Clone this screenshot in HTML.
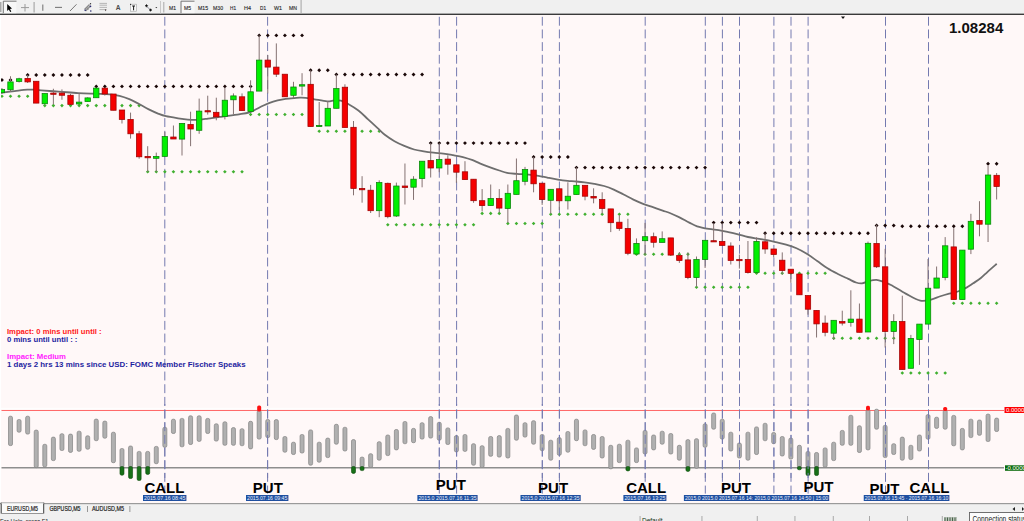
<!DOCTYPE html><html><head><meta charset="utf-8"><style>html,body{margin:0;padding:0;width:1024px;height:521px;overflow:hidden;background:#FFF9F9;position:relative;font-family:"Liberation Sans",sans-serif}</style></head><body><svg width="1024" height="521" viewBox="0 0 1024 521" style="position:absolute;left:0;top:0">
<rect x="0" y="15" width="1024" height="489" fill="#FFF8F8"/>
<rect x="0" y="407.8" width="1024" height="1" fill="#FFFFFF"/>
<rect x="0" y="15" width="1" height="488" fill="#FFFFFF"/>
<rect x="0" y="0" width="1024" height="14" fill="#F0F0F0"/>
<rect x="0" y="13.6" width="1024" height="1.4" fill="#3A3A3A"/>
<line x1="1.5" y1="410.5" x2="1004" y2="410.5" stroke="#FF6A6A" stroke-width="1"/>
<line x1="1.5" y1="467.8" x2="1004" y2="467.8" stroke="#8E8E8E" stroke-width="1.4"/>
<clipPath id="chclip"><rect x="1" y="15" width="1023" height="392.8"/></clipPath><g clip-path="url(#chclip)">
<line x1="164.8" y1="16.8" x2="164.8" y2="493.6" stroke="#747AB0" stroke-width="1" stroke-dasharray="8.9 3.77"/>
<line x1="267.6" y1="16.8" x2="267.6" y2="493.6" stroke="#747AB0" stroke-width="1" stroke-dasharray="8.9 3.77"/>
<line x1="439.3" y1="16.8" x2="439.3" y2="493.6" stroke="#747AB0" stroke-width="1" stroke-dasharray="8.9 3.77"/>
<line x1="456.6" y1="16.8" x2="456.6" y2="493.6" stroke="#747AB0" stroke-width="1" stroke-dasharray="8.9 3.77"/>
<line x1="542.3" y1="16.8" x2="542.3" y2="493.6" stroke="#747AB0" stroke-width="1" stroke-dasharray="8.9 3.77"/>
<line x1="559.4" y1="16.8" x2="559.4" y2="493.6" stroke="#747AB0" stroke-width="1" stroke-dasharray="8.9 3.77"/>
<line x1="645.2" y1="16.8" x2="645.2" y2="493.6" stroke="#747AB0" stroke-width="1" stroke-dasharray="8.9 3.77"/>
<line x1="705.3" y1="16.8" x2="705.3" y2="493.6" stroke="#747AB0" stroke-width="1" stroke-dasharray="8.9 3.77"/>
<line x1="722.4" y1="16.8" x2="722.4" y2="493.6" stroke="#747AB0" stroke-width="1" stroke-dasharray="8.9 3.77"/>
<line x1="739.5" y1="16.8" x2="739.5" y2="493.6" stroke="#747AB0" stroke-width="1" stroke-dasharray="8.9 3.77"/>
<line x1="773.9" y1="16.8" x2="773.9" y2="493.6" stroke="#747AB0" stroke-width="1" stroke-dasharray="8.9 3.77"/>
<line x1="791" y1="16.8" x2="791" y2="493.6" stroke="#747AB0" stroke-width="1" stroke-dasharray="8.9 3.77"/>
<line x1="808.1" y1="16.8" x2="808.1" y2="493.6" stroke="#747AB0" stroke-width="1" stroke-dasharray="8.9 3.77"/>
<line x1="885.5" y1="16.8" x2="885.5" y2="493.6" stroke="#747AB0" stroke-width="1" stroke-dasharray="8.9 3.77"/>
<line x1="928.5" y1="16.8" x2="928.5" y2="493.6" stroke="#747AB0" stroke-width="1" stroke-dasharray="8.9 3.77"/>
<path d="M-0.02 80.00L1.93 78.05L3.88 80.00L1.93 81.95Z" fill="#1A0808"/>
<path d="M8.55 80.00L10.50 78.05L12.45 80.00L10.50 81.95Z" fill="#1A0808"/>
<path d="M25.70 75.00L27.65 73.05L29.60 75.00L27.65 76.95Z" fill="#1A0808"/>
<path d="M34.28 75.00L36.23 73.05L38.18 75.00L36.23 76.95Z" fill="#1A0808"/>
<path d="M42.85 75.00L44.80 73.05L46.76 75.00L44.80 76.95Z" fill="#1A0808"/>
<path d="M51.43 75.00L53.38 73.05L55.33 75.00L53.38 76.95Z" fill="#1A0808"/>
<path d="M60.00 75.00L61.95 73.05L63.90 75.00L61.95 76.95Z" fill="#1A0808"/>
<path d="M68.58 75.00L70.53 73.05L72.48 75.00L70.53 76.95Z" fill="#1A0808"/>
<path d="M77.16 75.00L79.11 73.05L81.06 75.00L79.11 76.95Z" fill="#1A0808"/>
<path d="M85.73 75.00L87.68 73.05L89.63 75.00L87.68 76.95Z" fill="#1A0808"/>
<path d="M94.30 86.40L96.25 84.45L98.20 86.40L96.25 88.35Z" fill="#1A0808"/>
<path d="M102.88 86.40L104.83 84.45L106.78 86.40L104.83 88.35Z" fill="#1A0808"/>
<path d="M111.45 86.40L113.41 84.45L115.36 86.40L113.41 88.35Z" fill="#1A0808"/>
<path d="M120.03 86.40L121.98 84.45L123.93 86.40L121.98 88.35Z" fill="#1A0808"/>
<path d="M128.61 86.40L130.56 84.45L132.50 86.40L130.56 88.35Z" fill="#1A0808"/>
<path d="M137.18 86.40L139.13 84.45L141.08 86.40L139.13 88.35Z" fill="#1A0808"/>
<path d="M145.75 86.40L147.70 84.45L149.65 86.40L147.70 88.35Z" fill="#1A0808"/>
<path d="M154.33 86.40L156.28 84.45L158.23 86.40L156.28 88.35Z" fill="#1A0808"/>
<path d="M162.91 86.40L164.85 84.45L166.80 86.40L164.85 88.35Z" fill="#1A0808"/>
<path d="M171.48 86.40L173.43 84.45L175.38 86.40L173.43 88.35Z" fill="#1A0808"/>
<path d="M180.06 86.40L182.00 84.45L183.95 86.40L182.00 88.35Z" fill="#1A0808"/>
<path d="M188.63 86.40L190.58 84.45L192.53 86.40L190.58 88.35Z" fill="#1A0808"/>
<path d="M197.21 86.40L199.16 84.45L201.10 86.40L199.16 88.35Z" fill="#1A0808"/>
<path d="M205.78 86.40L207.73 84.45L209.68 86.40L207.73 88.35Z" fill="#1A0808"/>
<path d="M214.35 86.40L216.30 84.45L218.25 86.40L216.30 88.35Z" fill="#1A0808"/>
<path d="M222.93 86.40L224.88 84.45L226.83 86.40L224.88 88.35Z" fill="#1A0808"/>
<path d="M231.50 86.40L233.45 84.45L235.40 86.40L233.45 88.35Z" fill="#1A0808"/>
<path d="M240.08 86.40L242.03 84.45L243.98 86.40L242.03 88.35Z" fill="#1A0808"/>
<path d="M248.66 86.40L250.60 84.45L252.55 86.40L250.60 88.35Z" fill="#1A0808"/>
<path d="M257.23 35.40L259.18 33.45L261.13 35.40L259.18 37.35Z" fill="#1A0808"/>
<path d="M265.81 35.40L267.75 33.45L269.70 35.40L267.75 37.35Z" fill="#1A0808"/>
<path d="M274.38 35.40L276.33 33.45L278.28 35.40L276.33 37.35Z" fill="#1A0808"/>
<path d="M282.95 35.40L284.90 33.45L286.85 35.40L284.90 37.35Z" fill="#1A0808"/>
<path d="M291.53 35.40L293.48 33.45L295.43 35.40L293.48 37.35Z" fill="#1A0808"/>
<path d="M300.11 35.40L302.06 33.45L304.00 35.40L302.06 37.35Z" fill="#1A0808"/>
<path d="M308.68 70.30L310.63 68.35L312.58 70.30L310.63 72.25Z" fill="#1A0808"/>
<path d="M317.25 70.30L319.20 68.35L321.15 70.30L319.20 72.25Z" fill="#1A0808"/>
<path d="M325.83 70.30L327.78 68.35L329.73 70.30L327.78 72.25Z" fill="#1A0808"/>
<path d="M334.40 74.50L336.35 72.55L338.30 74.50L336.35 76.45Z" fill="#1A0808"/>
<path d="M342.98 74.50L344.93 72.55L346.88 74.50L344.93 76.45Z" fill="#1A0808"/>
<path d="M351.56 74.50L353.50 72.55L355.45 74.50L353.50 76.45Z" fill="#1A0808"/>
<path d="M360.13 74.50L362.08 72.55L364.03 74.50L362.08 76.45Z" fill="#1A0808"/>
<path d="M368.70 74.50L370.65 72.55L372.60 74.50L370.65 76.45Z" fill="#1A0808"/>
<path d="M377.28 74.50L379.23 72.55L381.18 74.50L379.23 76.45Z" fill="#1A0808"/>
<path d="M385.85 74.50L387.80 72.55L389.75 74.50L387.80 76.45Z" fill="#1A0808"/>
<path d="M394.43 74.50L396.38 72.55L398.33 74.50L396.38 76.45Z" fill="#1A0808"/>
<path d="M403.00 74.50L404.95 72.55L406.90 74.50L404.95 76.45Z" fill="#1A0808"/>
<path d="M411.58 74.50L413.53 72.55L415.48 74.50L413.53 76.45Z" fill="#1A0808"/>
<path d="M420.15 74.50L422.10 72.55L424.05 74.50L422.10 76.45Z" fill="#1A0808"/>
<path d="M428.73 143.10L430.68 141.15L432.63 143.10L430.68 145.05Z" fill="#1A0808"/>
<path d="M437.31 143.10L439.25 141.15L441.20 143.10L439.25 145.05Z" fill="#1A0808"/>
<path d="M445.88 143.10L447.83 141.15L449.78 143.10L447.83 145.05Z" fill="#1A0808"/>
<path d="M454.45 143.10L456.40 141.15L458.35 143.10L456.40 145.05Z" fill="#1A0808"/>
<path d="M463.03 143.10L464.98 141.15L466.93 143.10L464.98 145.05Z" fill="#1A0808"/>
<path d="M471.60 143.10L473.55 141.15L475.50 143.10L473.55 145.05Z" fill="#1A0808"/>
<path d="M480.18 143.10L482.13 141.15L484.08 143.10L482.13 145.05Z" fill="#1A0808"/>
<path d="M488.75 143.10L490.70 141.15L492.65 143.10L490.70 145.05Z" fill="#1A0808"/>
<path d="M497.33 143.10L499.28 141.15L501.23 143.10L499.28 145.05Z" fill="#1A0808"/>
<path d="M505.90 143.10L507.85 141.15L509.80 143.10L507.85 145.05Z" fill="#1A0808"/>
<path d="M514.48 143.10L516.43 141.15L518.38 143.10L516.43 145.05Z" fill="#1A0808"/>
<path d="M523.05 143.10L525.00 141.15L526.95 143.10L525.00 145.05Z" fill="#1A0808"/>
<path d="M531.63 157.00L533.58 155.05L535.53 157.00L533.58 158.95Z" fill="#1A0808"/>
<path d="M540.20 157.00L542.15 155.05L544.10 157.00L542.15 158.95Z" fill="#1A0808"/>
<path d="M548.78 157.00L550.73 155.05L552.68 157.00L550.73 158.95Z" fill="#1A0808"/>
<path d="M557.35 157.00L559.30 155.05L561.25 157.00L559.30 158.95Z" fill="#1A0808"/>
<path d="M565.93 157.00L567.88 155.05L569.83 157.00L567.88 158.95Z" fill="#1A0808"/>
<path d="M574.50 167.60L576.45 165.65L578.40 167.60L576.45 169.55Z" fill="#1A0808"/>
<path d="M583.08 167.60L585.03 165.65L586.98 167.60L585.03 169.55Z" fill="#1A0808"/>
<path d="M591.65 167.60L593.60 165.65L595.55 167.60L593.60 169.55Z" fill="#1A0808"/>
<path d="M600.23 167.60L602.18 165.65L604.13 167.60L602.18 169.55Z" fill="#1A0808"/>
<path d="M608.80 167.60L610.75 165.65L612.70 167.60L610.75 169.55Z" fill="#1A0808"/>
<path d="M617.38 167.60L619.33 165.65L621.28 167.60L619.33 169.55Z" fill="#1A0808"/>
<path d="M625.95 167.60L627.90 165.65L629.85 167.60L627.90 169.55Z" fill="#1A0808"/>
<path d="M634.53 167.60L636.48 165.65L638.43 167.60L636.48 169.55Z" fill="#1A0808"/>
<path d="M643.10 167.60L645.05 165.65L647.00 167.60L645.05 169.55Z" fill="#1A0808"/>
<path d="M651.68 167.60L653.63 165.65L655.58 167.60L653.63 169.55Z" fill="#1A0808"/>
<path d="M660.25 167.60L662.20 165.65L664.15 167.60L662.20 169.55Z" fill="#1A0808"/>
<path d="M668.83 167.60L670.78 165.65L672.73 167.60L670.78 169.55Z" fill="#1A0808"/>
<path d="M677.40 167.60L679.35 165.65L681.30 167.60L679.35 169.55Z" fill="#1A0808"/>
<path d="M685.98 167.60L687.93 165.65L689.88 167.60L687.93 169.55Z" fill="#1A0808"/>
<path d="M694.55 167.60L696.50 165.65L698.45 167.60L696.50 169.55Z" fill="#1A0808"/>
<path d="M703.13 167.60L705.08 165.65L707.03 167.60L705.08 169.55Z" fill="#1A0808"/>
<path d="M711.70 222.60L713.65 220.65L715.60 222.60L713.65 224.55Z" fill="#1A0808"/>
<path d="M720.28 222.60L722.23 220.65L724.18 222.60L722.23 224.55Z" fill="#1A0808"/>
<path d="M728.85 222.60L730.80 220.65L732.75 222.60L730.80 224.55Z" fill="#1A0808"/>
<path d="M737.43 222.60L739.38 220.65L741.33 222.60L739.38 224.55Z" fill="#1A0808"/>
<path d="M746.00 222.60L747.95 220.65L749.90 222.60L747.95 224.55Z" fill="#1A0808"/>
<path d="M754.58 222.60L756.53 220.65L758.48 222.60L756.53 224.55Z" fill="#1A0808"/>
<path d="M763.15 233.30L765.10 231.35L767.05 233.30L765.10 235.25Z" fill="#1A0808"/>
<path d="M771.73 233.30L773.68 231.35L775.63 233.30L773.68 235.25Z" fill="#1A0808"/>
<path d="M780.30 233.30L782.25 231.35L784.20 233.30L782.25 235.25Z" fill="#1A0808"/>
<path d="M788.88 233.30L790.83 231.35L792.78 233.30L790.83 235.25Z" fill="#1A0808"/>
<path d="M797.45 233.30L799.40 231.35L801.35 233.30L799.40 235.25Z" fill="#1A0808"/>
<path d="M806.03 233.30L807.98 231.35L809.93 233.30L807.98 235.25Z" fill="#1A0808"/>
<path d="M814.60 233.30L816.55 231.35L818.50 233.30L816.55 235.25Z" fill="#1A0808"/>
<path d="M823.18 233.30L825.13 231.35L827.08 233.30L825.13 235.25Z" fill="#1A0808"/>
<path d="M831.75 233.30L833.70 231.35L835.65 233.30L833.70 235.25Z" fill="#1A0808"/>
<path d="M840.33 233.30L842.28 231.35L844.23 233.30L842.28 235.25Z" fill="#1A0808"/>
<path d="M848.90 233.30L850.85 231.35L852.80 233.30L850.85 235.25Z" fill="#1A0808"/>
<path d="M857.48 233.30L859.43 231.35L861.38 233.30L859.43 235.25Z" fill="#1A0808"/>
<path d="M866.05 233.30L868.00 231.35L869.95 233.30L868.00 235.25Z" fill="#1A0808"/>
<path d="M874.63 225.50L876.58 223.55L878.53 225.50L876.58 227.45Z" fill="#1A0808"/>
<path d="M883.20 225.50L885.15 223.55L887.10 225.50L885.15 227.45Z" fill="#1A0808"/>
<path d="M891.78 225.50L893.73 223.55L895.68 225.50L893.73 227.45Z" fill="#1A0808"/>
<path d="M900.35 226.20L902.30 224.25L904.25 226.20L902.30 228.15Z" fill="#1A0808"/>
<path d="M908.93 226.20L910.88 224.25L912.83 226.20L910.88 228.15Z" fill="#1A0808"/>
<path d="M917.50 226.20L919.45 224.25L921.40 226.20L919.45 228.15Z" fill="#1A0808"/>
<path d="M926.08 226.20L928.03 224.25L929.98 226.20L928.03 228.15Z" fill="#1A0808"/>
<path d="M934.65 226.20L936.60 224.25L938.55 226.20L936.60 228.15Z" fill="#1A0808"/>
<path d="M943.23 226.20L945.18 224.25L947.13 226.20L945.18 228.15Z" fill="#1A0808"/>
<path d="M951.80 226.20L953.75 224.25L955.70 226.20L953.75 228.15Z" fill="#1A0808"/>
<path d="M960.38 226.20L962.33 224.25L964.28 226.20L962.33 228.15Z" fill="#1A0808"/>
<path d="M986.10 163.80L988.05 161.85L990.00 163.80L988.05 165.75Z" fill="#1A0808"/>
<path d="M994.68 163.80L996.63 161.85L998.58 163.80L996.63 165.75Z" fill="#1A0808"/>
<path d="M0.13 96.25L1.93 94.45L3.73 96.25L1.93 98.05Z" fill="#40B030"/>
<path d="M8.70 96.25L10.50 94.45L12.30 96.25L10.50 98.05Z" fill="#40B030"/>
<path d="M17.28 96.25L19.08 94.45L20.88 96.25L19.08 98.05Z" fill="#40B030"/>
<path d="M25.85 96.25L27.65 94.45L29.45 96.25L27.65 98.05Z" fill="#40B030"/>
<path d="M43.01 105.60L44.80 103.80L46.60 105.60L44.80 107.40Z" fill="#40B030"/>
<path d="M51.58 105.60L53.38 103.80L55.18 105.60L53.38 107.40Z" fill="#40B030"/>
<path d="M60.15 105.60L61.95 103.80L63.75 105.60L61.95 107.40Z" fill="#40B030"/>
<path d="M68.73 105.60L70.53 103.80L72.33 105.60L70.53 107.40Z" fill="#40B030"/>
<path d="M77.31 105.60L79.11 103.80L80.91 105.60L79.11 107.40Z" fill="#40B030"/>
<path d="M85.88 105.60L87.68 103.80L89.48 105.60L87.68 107.40Z" fill="#40B030"/>
<path d="M94.45 105.60L96.25 103.80L98.05 105.60L96.25 107.40Z" fill="#40B030"/>
<path d="M103.03 105.60L104.83 103.80L106.63 105.60L104.83 107.40Z" fill="#40B030"/>
<path d="M120.18 105.60L121.98 103.80L123.78 105.60L121.98 107.40Z" fill="#40B030"/>
<path d="M128.75 105.60L130.56 103.80L132.36 105.60L130.56 107.40Z" fill="#40B030"/>
<path d="M137.33 105.60L139.13 103.80L140.93 105.60L139.13 107.40Z" fill="#40B030"/>
<path d="M145.90 171.80L147.70 170.00L149.50 171.80L147.70 173.60Z" fill="#40B030"/>
<path d="M154.48 171.80L156.28 170.00L158.08 171.80L156.28 173.60Z" fill="#40B030"/>
<path d="M163.05 171.80L164.85 170.00L166.66 171.80L164.85 173.60Z" fill="#40B030"/>
<path d="M171.63 171.80L173.43 170.00L175.23 171.80L173.43 173.60Z" fill="#40B030"/>
<path d="M180.20 171.80L182.00 170.00L183.81 171.80L182.00 173.60Z" fill="#40B030"/>
<path d="M188.78 171.80L190.58 170.00L192.38 171.80L190.58 173.60Z" fill="#40B030"/>
<path d="M197.35 171.80L199.16 170.00L200.96 171.80L199.16 173.60Z" fill="#40B030"/>
<path d="M205.93 171.80L207.73 170.00L209.53 171.80L207.73 173.60Z" fill="#40B030"/>
<path d="M214.50 171.80L216.30 170.00L218.10 171.80L216.30 173.60Z" fill="#40B030"/>
<path d="M223.08 171.80L224.88 170.00L226.68 171.80L224.88 173.60Z" fill="#40B030"/>
<path d="M231.65 171.80L233.45 170.00L235.25 171.80L233.45 173.60Z" fill="#40B030"/>
<path d="M240.23 171.80L242.03 170.00L243.83 171.80L242.03 173.60Z" fill="#40B030"/>
<path d="M248.80 114.50L250.60 112.70L252.41 114.50L250.60 116.30Z" fill="#40B030"/>
<path d="M257.38 114.50L259.18 112.70L260.98 114.50L259.18 116.30Z" fill="#40B030"/>
<path d="M265.95 114.50L267.75 112.70L269.56 114.50L267.75 116.30Z" fill="#40B030"/>
<path d="M274.53 114.50L276.33 112.70L278.13 114.50L276.33 116.30Z" fill="#40B030"/>
<path d="M283.10 114.50L284.90 112.70L286.70 114.50L284.90 116.30Z" fill="#40B030"/>
<path d="M291.68 114.50L293.48 112.70L295.28 114.50L293.48 116.30Z" fill="#40B030"/>
<path d="M300.25 114.50L302.06 112.70L303.86 114.50L302.06 116.30Z" fill="#40B030"/>
<path d="M317.40 131.20L319.20 129.40L321.00 131.20L319.20 133.00Z" fill="#40B030"/>
<path d="M325.98 131.20L327.78 129.40L329.58 131.20L327.78 133.00Z" fill="#40B030"/>
<path d="M334.55 131.20L336.35 129.40L338.15 131.20L336.35 133.00Z" fill="#40B030"/>
<path d="M343.13 131.20L344.93 129.40L346.73 131.20L344.93 133.00Z" fill="#40B030"/>
<path d="M351.70 131.20L353.50 129.40L355.31 131.20L353.50 133.00Z" fill="#40B030"/>
<path d="M360.28 131.20L362.08 129.40L363.88 131.20L362.08 133.00Z" fill="#40B030"/>
<path d="M368.85 131.20L370.65 129.40L372.45 131.20L370.65 133.00Z" fill="#40B030"/>
<path d="M377.43 131.20L379.23 129.40L381.03 131.20L379.23 133.00Z" fill="#40B030"/>
<path d="M386.00 224.80L387.80 223.00L389.60 224.80L387.80 226.60Z" fill="#40B030"/>
<path d="M394.58 224.80L396.38 223.00L398.18 224.80L396.38 226.60Z" fill="#40B030"/>
<path d="M403.15 224.80L404.95 223.00L406.75 224.80L404.95 226.60Z" fill="#40B030"/>
<path d="M411.73 224.80L413.53 223.00L415.33 224.80L413.53 226.60Z" fill="#40B030"/>
<path d="M420.30 224.80L422.10 223.00L423.90 224.80L422.10 226.60Z" fill="#40B030"/>
<path d="M428.88 224.80L430.68 223.00L432.48 224.80L430.68 226.60Z" fill="#40B030"/>
<path d="M437.45 224.80L439.25 223.00L441.06 224.80L439.25 226.60Z" fill="#40B030"/>
<path d="M446.03 224.80L447.83 223.00L449.63 224.80L447.83 226.60Z" fill="#40B030"/>
<path d="M454.60 224.80L456.40 223.00L458.20 224.80L456.40 226.60Z" fill="#40B030"/>
<path d="M463.18 224.80L464.98 223.00L466.78 224.80L464.98 226.60Z" fill="#40B030"/>
<path d="M471.75 224.80L473.55 223.00L475.35 224.80L473.55 226.60Z" fill="#40B030"/>
<path d="M480.33 213.40L482.13 211.60L483.93 213.40L482.13 215.20Z" fill="#40B030"/>
<path d="M488.90 213.40L490.70 211.60L492.50 213.40L490.70 215.20Z" fill="#40B030"/>
<path d="M497.48 213.40L499.28 211.60L501.08 213.40L499.28 215.20Z" fill="#40B030"/>
<path d="M506.05 223.50L507.85 221.70L509.65 223.50L507.85 225.30Z" fill="#40B030"/>
<path d="M514.63 223.50L516.43 221.70L518.23 223.50L516.43 225.30Z" fill="#40B030"/>
<path d="M523.20 223.50L525.00 221.70L526.80 223.50L525.00 225.30Z" fill="#40B030"/>
<path d="M531.78 223.50L533.58 221.70L535.38 223.50L533.58 225.30Z" fill="#40B030"/>
<path d="M540.35 223.50L542.15 221.70L543.95 223.50L542.15 225.30Z" fill="#40B030"/>
<path d="M548.93 214.20L550.73 212.40L552.53 214.20L550.73 216.00Z" fill="#40B030"/>
<path d="M557.50 214.20L559.30 212.40L561.10 214.20L559.30 216.00Z" fill="#40B030"/>
<path d="M566.08 214.20L567.88 212.40L569.68 214.20L567.88 216.00Z" fill="#40B030"/>
<path d="M574.65 214.20L576.45 212.40L578.25 214.20L576.45 216.00Z" fill="#40B030"/>
<path d="M583.23 214.20L585.03 212.40L586.83 214.20L585.03 216.00Z" fill="#40B030"/>
<path d="M591.80 214.20L593.60 212.40L595.40 214.20L593.60 216.00Z" fill="#40B030"/>
<path d="M600.38 214.20L602.18 212.40L603.98 214.20L602.18 216.00Z" fill="#40B030"/>
<path d="M608.95 214.20L610.75 212.40L612.55 214.20L610.75 216.00Z" fill="#40B030"/>
<path d="M617.53 214.20L619.33 212.40L621.13 214.20L619.33 216.00Z" fill="#40B030"/>
<path d="M626.10 214.20L627.90 212.40L629.70 214.20L627.90 216.00Z" fill="#40B030"/>
<path d="M634.68 254.30L636.48 252.50L638.28 254.30L636.48 256.10Z" fill="#40B030"/>
<path d="M643.25 254.30L645.05 252.50L646.85 254.30L645.05 256.10Z" fill="#40B030"/>
<path d="M651.83 254.30L653.63 252.50L655.43 254.30L653.63 256.10Z" fill="#40B030"/>
<path d="M660.40 254.30L662.20 252.50L664.00 254.30L662.20 256.10Z" fill="#40B030"/>
<path d="M668.98 254.30L670.78 252.50L672.58 254.30L670.78 256.10Z" fill="#40B030"/>
<path d="M677.55 254.30L679.35 252.50L681.15 254.30L679.35 256.10Z" fill="#40B030"/>
<path d="M686.13 254.30L687.93 252.50L689.73 254.30L687.93 256.10Z" fill="#40B030"/>
<path d="M694.70 287.30L696.50 285.50L698.30 287.30L696.50 289.10Z" fill="#40B030"/>
<path d="M703.28 287.30L705.08 285.50L706.88 287.30L705.08 289.10Z" fill="#40B030"/>
<path d="M711.85 287.30L713.65 285.50L715.45 287.30L713.65 289.10Z" fill="#40B030"/>
<path d="M720.43 287.30L722.23 285.50L724.03 287.30L722.23 289.10Z" fill="#40B030"/>
<path d="M729.00 287.30L730.80 285.50L732.60 287.30L730.80 289.10Z" fill="#40B030"/>
<path d="M737.58 287.30L739.38 285.50L741.18 287.30L739.38 289.10Z" fill="#40B030"/>
<path d="M746.15 287.30L747.95 285.50L749.75 287.30L747.95 289.10Z" fill="#40B030"/>
<path d="M754.73 273.30L756.53 271.50L758.33 273.30L756.53 275.10Z" fill="#40B030"/>
<path d="M763.30 273.30L765.10 271.50L766.90 273.30L765.10 275.10Z" fill="#40B030"/>
<path d="M771.88 273.30L773.68 271.50L775.48 273.30L773.68 275.10Z" fill="#40B030"/>
<path d="M780.45 273.30L782.25 271.50L784.05 273.30L782.25 275.10Z" fill="#40B030"/>
<path d="M789.03 273.30L790.83 271.50L792.63 273.30L790.83 275.10Z" fill="#40B030"/>
<path d="M797.60 273.30L799.40 271.50L801.20 273.30L799.40 275.10Z" fill="#40B030"/>
<path d="M806.18 273.30L807.98 271.50L809.78 273.30L807.98 275.10Z" fill="#40B030"/>
<path d="M814.75 273.30L816.55 271.50L818.35 273.30L816.55 275.10Z" fill="#40B030"/>
<path d="M823.33 273.30L825.13 271.50L826.93 273.30L825.13 275.10Z" fill="#40B030"/>
<path d="M831.90 338.20L833.70 336.40L835.50 338.20L833.70 340.00Z" fill="#40B030"/>
<path d="M840.48 338.20L842.28 336.40L844.08 338.20L842.28 340.00Z" fill="#40B030"/>
<path d="M849.05 338.20L850.85 336.40L852.65 338.20L850.85 340.00Z" fill="#40B030"/>
<path d="M857.63 338.20L859.43 336.40L861.23 338.20L859.43 340.00Z" fill="#40B030"/>
<path d="M866.20 338.20L868.00 336.40L869.80 338.20L868.00 340.00Z" fill="#40B030"/>
<path d="M874.78 338.20L876.58 336.40L878.38 338.20L876.58 340.00Z" fill="#40B030"/>
<path d="M883.35 338.20L885.15 336.40L886.95 338.20L885.15 340.00Z" fill="#40B030"/>
<path d="M891.93 338.20L893.73 336.40L895.53 338.20L893.73 340.00Z" fill="#40B030"/>
<path d="M900.50 373.00L902.30 371.20L904.10 373.00L902.30 374.80Z" fill="#40B030"/>
<path d="M909.08 373.00L910.88 371.20L912.68 373.00L910.88 374.80Z" fill="#40B030"/>
<path d="M917.65 373.00L919.45 371.20L921.25 373.00L919.45 374.80Z" fill="#40B030"/>
<path d="M926.23 373.00L928.03 371.20L929.83 373.00L928.03 374.80Z" fill="#40B030"/>
<path d="M934.80 373.00L936.60 371.20L938.40 373.00L936.60 374.80Z" fill="#40B030"/>
<path d="M943.38 373.00L945.18 371.20L946.98 373.00L945.18 374.80Z" fill="#40B030"/>
<path d="M951.95 303.30L953.75 301.50L955.55 303.30L953.75 305.10Z" fill="#40B030"/>
<path d="M960.53 303.30L962.33 301.50L964.13 303.30L962.33 305.10Z" fill="#40B030"/>
<path d="M969.10 303.30L970.90 301.50L972.70 303.30L970.90 305.10Z" fill="#40B030"/>
<path d="M977.68 303.30L979.48 301.50L981.28 303.30L979.48 305.10Z" fill="#40B030"/>
<path d="M986.25 303.30L988.05 301.50L989.85 303.30L988.05 305.10Z" fill="#40B030"/>
<path d="M994.83 303.30L996.63 301.50L998.43 303.30L996.63 305.10Z" fill="#40B030"/>
<path d="M0,93.0 C0.33,92.93 -0.43,92.92 2,92.6 C4.43,92.28 10.38,91.58 14.6,91.1 C18.82,90.62 23.90,89.93 27.3,89.7 C30.70,89.47 32.72,89.58 35,89.7 C37.28,89.82 37.07,90.08 41,90.4 C44.93,90.72 52.42,91.15 58.6,91.6 C64.78,92.05 72.57,92.75 78.1,93.1 C83.63,93.45 88.15,93.58 91.8,93.7 C95.45,93.82 97.00,93.68 100,93.8 C103.00,93.92 106.55,94.05 109.8,94.4 C113.05,94.75 116.25,95.10 119.5,95.9 C122.75,96.70 126.03,97.85 129.3,99.2 C132.57,100.55 135.85,102.30 139.1,104 C142.35,105.70 145.55,107.77 148.8,109.4 C152.05,111.03 155.73,112.67 158.6,113.8 C161.47,114.93 162.75,115.45 166,116.2 C169.25,116.95 174.45,117.73 178.1,118.3 C181.75,118.87 184.75,119.33 187.9,119.6 C191.05,119.87 193.65,120.07 197,119.9 C200.35,119.73 204.25,119.10 208,118.6 C211.75,118.10 214.33,117.62 219.5,116.9 C224.67,116.18 234.12,115.02 239,114.3 C243.88,113.58 246.18,113.32 248.8,112.6 C251.42,111.88 252.25,111.18 254.7,110 C257.15,108.82 260.42,106.90 263.5,105.5 C266.58,104.10 269.95,102.63 273.2,101.6 C276.45,100.57 280.03,99.83 283,99.3 C285.97,98.77 288.20,98.67 291,98.4 C293.80,98.13 297.37,97.78 299.8,97.7 C302.23,97.62 303.17,97.63 305.6,97.9 C308.03,98.17 310.82,98.73 314.4,99.3 C317.98,99.87 324.00,101.07 327.1,101.3 C330.20,101.53 330.72,100.82 333,100.7 C335.28,100.58 338.20,100.02 340.8,100.6 C343.40,101.18 345.67,102.55 348.6,104.2 C351.53,105.85 355.15,107.98 358.4,110.5 C361.65,113.02 364.85,116.32 368.1,119.3 C371.35,122.28 375.12,125.82 377.9,128.4 C380.68,130.98 382.03,132.67 384.8,134.8 C387.57,136.93 391.25,139.35 394.5,141.2 C397.75,143.05 401.03,144.52 404.3,145.9 C407.57,147.28 410.85,148.58 414.1,149.5 C417.35,150.42 420.55,150.87 423.8,151.4 C427.05,151.93 430.33,152.33 433.6,152.7 C436.87,153.07 440.15,153.18 443.4,153.6 C446.65,154.02 449.85,154.62 453.1,155.2 C456.35,155.78 459.63,156.27 462.9,157.1 C466.17,157.93 469.88,159.15 472.7,160.2 C475.52,161.25 477.00,162.25 479.8,163.4 C482.60,164.55 486.25,165.92 489.5,167.1 C492.75,168.28 496.37,169.53 499.3,170.5 C502.23,171.47 504.17,172.33 507.1,172.9 C510.03,173.47 513.32,173.62 516.9,173.9 C520.48,174.18 525.02,174.28 528.6,174.6 C532.18,174.92 535.15,175.27 538.4,175.8 C541.65,176.33 544.85,177.17 548.1,177.8 C551.35,178.43 554.63,179.08 557.9,179.6 C561.17,180.12 564.88,180.60 567.7,180.9 C570.52,181.20 572.00,181.17 574.8,181.4 C577.60,181.63 581.25,181.90 584.5,182.3 C587.75,182.70 591.03,183.18 594.3,183.8 C597.57,184.42 600.85,185.03 604.1,186 C607.35,186.97 610.55,188.18 613.8,189.6 C617.05,191.02 620.33,192.83 623.6,194.5 C626.87,196.17 630.15,198.05 633.4,199.6 C636.65,201.15 639.85,202.53 643.1,203.8 C646.35,205.07 649.63,206.07 652.9,207.2 C656.17,208.33 659.88,209.63 662.7,210.6 C665.52,211.57 667.00,211.87 669.8,213 C672.60,214.13 676.25,215.80 679.5,217.4 C682.75,219.00 686.37,221.12 689.3,222.6 C692.23,224.08 693.85,225.25 697.1,226.3 C700.35,227.35 705.22,228.27 708.8,228.9 C712.38,229.53 715.33,229.57 718.6,230.1 C721.87,230.63 725.15,231.38 728.4,232.1 C731.65,232.82 734.85,233.58 738.1,234.4 C741.35,235.22 744.63,236.28 747.9,237 C751.17,237.72 754.78,238.22 757.7,238.7 C760.62,239.18 762.40,239.32 765.4,239.9 C768.40,240.48 772.25,241.42 775.7,242.2 C779.15,242.98 782.63,243.58 786.1,244.6 C789.57,245.62 793.05,246.77 796.5,248.3 C799.95,249.83 803.35,251.68 806.8,253.8 C810.25,255.92 813.75,258.58 817.2,261 C820.65,263.42 824.05,266.13 827.5,268.3 C830.95,270.47 834.43,272.23 837.9,274 C841.37,275.77 845.28,277.48 848.3,278.9 C851.32,280.32 853.72,281.75 856,282.5 C858.28,283.25 859.83,283.65 862,283.4 C864.17,283.15 866.60,281.58 869,281 C871.40,280.42 874.07,279.80 876.4,279.9 C878.73,280.00 880.57,280.75 883,281.6 C885.43,282.45 887.22,283.00 891,285 C894.78,287.00 900.82,291.00 905.7,293.6 C910.58,296.20 915.93,299.65 920.3,300.6 C924.67,301.55 928.68,299.98 931.9,299.3 C935.12,298.62 936.72,297.45 939.6,296.5 C942.48,295.55 946.17,294.43 949.2,293.6 C952.23,292.77 954.92,292.50 957.8,291.5 C960.68,290.50 963.93,288.97 966.5,287.6 C969.07,286.23 970.80,284.90 973.2,283.3 C975.60,281.70 978.50,279.92 980.9,278 C983.30,276.08 984.97,274.17 987.6,271.8 C990.23,269.43 995.18,265.13 996.7,263.8" fill="none" stroke="#6E6E6E" stroke-width="1.8" stroke-linejoin="round"/>
<line x1="1.93" y1="88.0" x2="1.93" y2="94.0" stroke="#857272" stroke-width="1"/>
<rect x="-0.77" y="89.5" width="5.4" height="3.20" fill="#00F000" stroke="#0A800A" stroke-width="0.75"/>
<line x1="10.50" y1="76.25" x2="10.50" y2="92.0" stroke="#857272" stroke-width="1"/>
<rect x="7.80" y="81.9" width="5.4" height="7.85" fill="#00F000" stroke="#0A800A" stroke-width="0.75"/>
<line x1="19.08" y1="77.75" x2="19.08" y2="82.5" stroke="#857272" stroke-width="1"/>
<rect x="16.38" y="78.75" width="5.4" height="2.75" fill="#00F000" stroke="#0A800A" stroke-width="0.75"/>
<line x1="27.65" y1="75.0" x2="27.65" y2="83.0" stroke="#857272" stroke-width="1"/>
<rect x="24.95" y="78.4" width="5.4" height="3.50" fill="#F50000" stroke="#A00000" stroke-width="0.75"/>
<line x1="36.23" y1="81.25" x2="36.23" y2="103.1" stroke="#857272" stroke-width="1"/>
<rect x="33.53" y="81.25" width="5.4" height="21.85" fill="#F50000" stroke="#A00000" stroke-width="0.75"/>
<line x1="44.80" y1="93.5" x2="44.80" y2="103.75" stroke="#857272" stroke-width="1"/>
<rect x="42.10" y="93.5" width="5.4" height="10.25" fill="#00F000" stroke="#0A800A" stroke-width="0.75"/>
<line x1="53.38" y1="88.75" x2="53.38" y2="104.4" stroke="#857272" stroke-width="1"/>
<rect x="50.68" y="93.1" width="5.4" height="1.20" fill="#F50000" stroke="#A00000" stroke-width="0.75"/>
<line x1="61.95" y1="89.4" x2="61.95" y2="99.75" stroke="#857272" stroke-width="1"/>
<rect x="59.25" y="93.1" width="5.4" height="2.15" fill="#F50000" stroke="#A00000" stroke-width="0.75"/>
<line x1="70.53" y1="93.75" x2="70.53" y2="105.0" stroke="#857272" stroke-width="1"/>
<rect x="67.83" y="95.25" width="5.4" height="9.15" fill="#F50000" stroke="#A00000" stroke-width="0.75"/>
<line x1="79.11" y1="93.75" x2="79.11" y2="104.0" stroke="#857272" stroke-width="1"/>
<rect x="76.41" y="102.1" width="5.4" height="1.90" fill="#00F000" stroke="#0A800A" stroke-width="0.75"/>
<line x1="87.68" y1="97.25" x2="87.68" y2="101.6" stroke="#857272" stroke-width="1"/>
<rect x="84.98" y="97.9" width="5.4" height="3.70" fill="#00F000" stroke="#0A800A" stroke-width="0.75"/>
<line x1="96.25" y1="88.1" x2="96.25" y2="97.75" stroke="#857272" stroke-width="1"/>
<rect x="93.55" y="88.1" width="5.4" height="9.65" fill="#00F000" stroke="#0A800A" stroke-width="0.75"/>
<line x1="104.83" y1="88.1" x2="104.83" y2="95.6" stroke="#857272" stroke-width="1"/>
<rect x="102.13" y="88.1" width="5.4" height="5.90" fill="#F50000" stroke="#A00000" stroke-width="0.75"/>
<line x1="113.41" y1="94.0" x2="113.41" y2="110.25" stroke="#857272" stroke-width="1"/>
<rect x="110.70" y="94.0" width="5.4" height="16.25" fill="#F50000" stroke="#A00000" stroke-width="0.75"/>
<line x1="121.98" y1="110.0" x2="121.98" y2="123.5" stroke="#857272" stroke-width="1"/>
<rect x="119.28" y="110.0" width="5.4" height="9.40" fill="#F50000" stroke="#A00000" stroke-width="0.75"/>
<line x1="130.56" y1="112.6" x2="130.56" y2="138.6" stroke="#857272" stroke-width="1"/>
<rect x="127.86" y="119.4" width="5.4" height="14.40" fill="#F50000" stroke="#A00000" stroke-width="0.75"/>
<line x1="139.13" y1="130.9" x2="139.13" y2="158.7" stroke="#857272" stroke-width="1"/>
<rect x="136.43" y="133.8" width="5.4" height="23.00" fill="#F50000" stroke="#A00000" stroke-width="0.75"/>
<line x1="147.70" y1="146.2" x2="147.70" y2="171.8" stroke="#857272" stroke-width="1"/>
<rect x="145.00" y="156.4" width="5.4" height="1.40" fill="#F50000" stroke="#A00000" stroke-width="0.75"/>
<line x1="156.28" y1="152.6" x2="156.28" y2="171.8" stroke="#857272" stroke-width="1"/>
<rect x="153.58" y="156.4" width="5.4" height="1.90" fill="#00F000" stroke="#0A800A" stroke-width="0.75"/>
<line x1="164.85" y1="131.8" x2="164.85" y2="156.4" stroke="#857272" stroke-width="1"/>
<rect x="162.16" y="136.6" width="5.4" height="19.80" fill="#00F000" stroke="#0A800A" stroke-width="0.75"/>
<line x1="173.43" y1="125.5" x2="173.43" y2="139.0" stroke="#857272" stroke-width="1"/>
<rect x="170.73" y="137.0" width="5.4" height="2.00" fill="#F50000" stroke="#A00000" stroke-width="0.75"/>
<line x1="182.00" y1="123.4" x2="182.00" y2="155.5" stroke="#857272" stroke-width="1"/>
<rect x="179.31" y="123.4" width="5.4" height="15.70" fill="#00F000" stroke="#0A800A" stroke-width="0.75"/>
<line x1="190.58" y1="111.7" x2="190.58" y2="146.2" stroke="#857272" stroke-width="1"/>
<rect x="187.88" y="124.5" width="5.4" height="4.50" fill="#F50000" stroke="#A00000" stroke-width="0.75"/>
<line x1="199.16" y1="98.6" x2="199.16" y2="133.8" stroke="#857272" stroke-width="1"/>
<rect x="196.46" y="111.1" width="5.4" height="19.20" fill="#00F000" stroke="#0A800A" stroke-width="0.75"/>
<line x1="207.73" y1="95.7" x2="207.73" y2="114.6" stroke="#857272" stroke-width="1"/>
<rect x="205.03" y="110.7" width="5.4" height="1.20" fill="#F50000" stroke="#A00000" stroke-width="0.75"/>
<line x1="216.30" y1="97.7" x2="216.30" y2="120.3" stroke="#857272" stroke-width="1"/>
<rect x="213.60" y="112.3" width="5.4" height="4.60" fill="#F50000" stroke="#A00000" stroke-width="0.75"/>
<line x1="224.88" y1="87.7" x2="224.88" y2="119.4" stroke="#857272" stroke-width="1"/>
<rect x="222.18" y="100.2" width="5.4" height="16.30" fill="#00F000" stroke="#0A800A" stroke-width="0.75"/>
<line x1="233.45" y1="93.4" x2="233.45" y2="114.6" stroke="#857272" stroke-width="1"/>
<rect x="230.75" y="95.9" width="5.4" height="3.90" fill="#00F000" stroke="#0A800A" stroke-width="0.75"/>
<line x1="242.03" y1="93.4" x2="242.03" y2="110.6" stroke="#857272" stroke-width="1"/>
<rect x="239.33" y="96.8" width="5.4" height="13.80" fill="#F50000" stroke="#A00000" stroke-width="0.75"/>
<line x1="250.60" y1="80.3" x2="250.60" y2="111.6" stroke="#857272" stroke-width="1"/>
<rect x="247.91" y="91.8" width="5.4" height="19.80" fill="#00F000" stroke="#0A800A" stroke-width="0.75"/>
<line x1="259.18" y1="35.4" x2="259.18" y2="91.1" stroke="#857272" stroke-width="1"/>
<rect x="256.48" y="60.1" width="5.4" height="31.00" fill="#00F000" stroke="#0A800A" stroke-width="0.75"/>
<line x1="267.75" y1="55.0" x2="267.75" y2="93.4" stroke="#857272" stroke-width="1"/>
<rect x="265.06" y="60.1" width="5.4" height="7.00" fill="#F50000" stroke="#A00000" stroke-width="0.75"/>
<line x1="276.33" y1="43.4" x2="276.33" y2="77.0" stroke="#857272" stroke-width="1"/>
<rect x="273.63" y="67.1" width="5.4" height="7.10" fill="#F50000" stroke="#A00000" stroke-width="0.75"/>
<line x1="284.90" y1="74.2" x2="284.90" y2="96.8" stroke="#857272" stroke-width="1"/>
<rect x="282.20" y="74.2" width="5.4" height="22.60" fill="#F50000" stroke="#A00000" stroke-width="0.75"/>
<line x1="293.48" y1="81.8" x2="293.48" y2="98.2" stroke="#857272" stroke-width="1"/>
<rect x="290.78" y="87.0" width="5.4" height="8.30" fill="#00F000" stroke="#0A800A" stroke-width="0.75"/>
<line x1="302.06" y1="73.2" x2="302.06" y2="95.3" stroke="#857272" stroke-width="1"/>
<rect x="299.36" y="84.7" width="5.4" height="1.40" fill="#00F000" stroke="#0A800A" stroke-width="0.75"/>
<line x1="310.63" y1="70.3" x2="310.63" y2="126.6" stroke="#857272" stroke-width="1"/>
<rect x="307.93" y="84.3" width="5.4" height="42.30" fill="#F50000" stroke="#A00000" stroke-width="0.75"/>
<line x1="319.20" y1="102.0" x2="319.20" y2="126.6" stroke="#857272" stroke-width="1"/>
<rect x="316.50" y="125.4" width="5.4" height="1.20" fill="#00F000" stroke="#0A800A" stroke-width="0.75"/>
<line x1="327.78" y1="101.0" x2="327.78" y2="126.0" stroke="#857272" stroke-width="1"/>
<rect x="325.08" y="108.3" width="5.4" height="17.70" fill="#00F000" stroke="#0A800A" stroke-width="0.75"/>
<line x1="336.35" y1="74.5" x2="336.35" y2="108.3" stroke="#857272" stroke-width="1"/>
<rect x="333.65" y="88.6" width="5.4" height="19.70" fill="#00F000" stroke="#0A800A" stroke-width="0.75"/>
<line x1="344.93" y1="84.3" x2="344.93" y2="127.5" stroke="#857272" stroke-width="1"/>
<rect x="342.23" y="87.2" width="5.4" height="40.30" fill="#F50000" stroke="#A00000" stroke-width="0.75"/>
<line x1="353.50" y1="121.0" x2="353.50" y2="195.3" stroke="#857272" stroke-width="1"/>
<rect x="350.81" y="127.3" width="5.4" height="61.10" fill="#F50000" stroke="#A00000" stroke-width="0.75"/>
<line x1="362.08" y1="176.2" x2="362.08" y2="202.7" stroke="#857272" stroke-width="1"/>
<rect x="359.38" y="188.4" width="5.4" height="1.40" fill="#F50000" stroke="#A00000" stroke-width="0.75"/>
<line x1="370.65" y1="184.9" x2="370.65" y2="213.0" stroke="#857272" stroke-width="1"/>
<rect x="367.95" y="190.2" width="5.4" height="20.50" fill="#F50000" stroke="#A00000" stroke-width="0.75"/>
<line x1="379.23" y1="180.3" x2="379.23" y2="217.2" stroke="#857272" stroke-width="1"/>
<rect x="376.53" y="182.6" width="5.4" height="28.10" fill="#00F000" stroke="#0A800A" stroke-width="0.75"/>
<line x1="387.80" y1="182.6" x2="387.80" y2="218.3" stroke="#857272" stroke-width="1"/>
<rect x="385.10" y="183.3" width="5.4" height="33.40" fill="#F50000" stroke="#A00000" stroke-width="0.75"/>
<line x1="396.38" y1="182.6" x2="396.38" y2="217.0" stroke="#857272" stroke-width="1"/>
<rect x="393.68" y="186.0" width="5.4" height="30.00" fill="#00F000" stroke="#0A800A" stroke-width="0.75"/>
<line x1="404.95" y1="163.5" x2="404.95" y2="204.5" stroke="#857272" stroke-width="1"/>
<rect x="402.25" y="186.0" width="5.4" height="1.50" fill="#F50000" stroke="#A00000" stroke-width="0.75"/>
<line x1="413.53" y1="176.2" x2="413.53" y2="199.9" stroke="#857272" stroke-width="1"/>
<rect x="410.83" y="179.2" width="5.4" height="8.00" fill="#00F000" stroke="#0A800A" stroke-width="0.75"/>
<line x1="422.10" y1="161.2" x2="422.10" y2="187.3" stroke="#857272" stroke-width="1"/>
<rect x="419.40" y="161.2" width="5.4" height="17.30" fill="#00F000" stroke="#0A800A" stroke-width="0.75"/>
<line x1="430.68" y1="143.1" x2="430.68" y2="177.5" stroke="#857272" stroke-width="1"/>
<rect x="427.98" y="160.6" width="5.4" height="7.40" fill="#F50000" stroke="#A00000" stroke-width="0.75"/>
<line x1="439.25" y1="143.1" x2="439.25" y2="172.2" stroke="#857272" stroke-width="1"/>
<rect x="436.56" y="159.5" width="5.4" height="8.50" fill="#00F000" stroke="#0A800A" stroke-width="0.75"/>
<line x1="447.83" y1="155.3" x2="447.83" y2="174.7" stroke="#857272" stroke-width="1"/>
<rect x="445.13" y="159.1" width="5.4" height="5.10" fill="#F50000" stroke="#A00000" stroke-width="0.75"/>
<line x1="456.40" y1="164.8" x2="456.40" y2="182.8" stroke="#857272" stroke-width="1"/>
<rect x="453.70" y="164.8" width="5.4" height="7.40" fill="#F50000" stroke="#A00000" stroke-width="0.75"/>
<line x1="464.98" y1="161.2" x2="464.98" y2="179.6" stroke="#857272" stroke-width="1"/>
<rect x="462.28" y="171.8" width="5.4" height="7.80" fill="#F50000" stroke="#A00000" stroke-width="0.75"/>
<line x1="473.55" y1="179.2" x2="473.55" y2="202.8" stroke="#857272" stroke-width="1"/>
<rect x="470.85" y="179.2" width="5.4" height="21.50" fill="#F50000" stroke="#A00000" stroke-width="0.75"/>
<line x1="482.13" y1="189.1" x2="482.13" y2="211.3" stroke="#857272" stroke-width="1"/>
<rect x="479.43" y="200.7" width="5.4" height="4.90" fill="#F50000" stroke="#A00000" stroke-width="0.75"/>
<line x1="490.70" y1="184.5" x2="490.70" y2="205.6" stroke="#857272" stroke-width="1"/>
<rect x="488.00" y="198.6" width="5.4" height="7.00" fill="#00F000" stroke="#0A800A" stroke-width="0.75"/>
<line x1="499.28" y1="189.1" x2="499.28" y2="212.3" stroke="#857272" stroke-width="1"/>
<rect x="496.58" y="198.6" width="5.4" height="9.50" fill="#F50000" stroke="#A00000" stroke-width="0.75"/>
<line x1="507.85" y1="184.5" x2="507.85" y2="222.9" stroke="#857272" stroke-width="1"/>
<rect x="505.15" y="193.3" width="5.4" height="15.20" fill="#00F000" stroke="#0A800A" stroke-width="0.75"/>
<line x1="516.43" y1="158.5" x2="516.43" y2="194.4" stroke="#857272" stroke-width="1"/>
<rect x="513.73" y="180.7" width="5.4" height="13.70" fill="#00F000" stroke="#0A800A" stroke-width="0.75"/>
<line x1="525.00" y1="166.9" x2="525.00" y2="185.3" stroke="#857272" stroke-width="1"/>
<rect x="522.30" y="169.5" width="5.4" height="11.80" fill="#00F000" stroke="#0A800A" stroke-width="0.75"/>
<line x1="533.58" y1="157.0" x2="533.58" y2="192.3" stroke="#857272" stroke-width="1"/>
<rect x="530.88" y="170.1" width="5.4" height="13.70" fill="#F50000" stroke="#A00000" stroke-width="0.75"/>
<line x1="542.15" y1="183.2" x2="542.15" y2="204.9" stroke="#857272" stroke-width="1"/>
<rect x="539.45" y="183.2" width="5.4" height="16.40" fill="#F50000" stroke="#A00000" stroke-width="0.75"/>
<line x1="550.73" y1="189.3" x2="550.73" y2="213.7" stroke="#857272" stroke-width="1"/>
<rect x="548.03" y="189.3" width="5.4" height="11.00" fill="#00F000" stroke="#0A800A" stroke-width="0.75"/>
<line x1="559.30" y1="188.8" x2="559.30" y2="210.0" stroke="#857272" stroke-width="1"/>
<rect x="556.60" y="188.8" width="5.4" height="12.00" fill="#F50000" stroke="#A00000" stroke-width="0.75"/>
<line x1="567.88" y1="182.3" x2="567.88" y2="209.5" stroke="#857272" stroke-width="1"/>
<rect x="565.18" y="196.2" width="5.4" height="4.60" fill="#00F000" stroke="#0A800A" stroke-width="0.75"/>
<line x1="576.45" y1="167.4" x2="576.45" y2="194.6" stroke="#857272" stroke-width="1"/>
<rect x="573.75" y="185.3" width="5.4" height="9.30" fill="#00F000" stroke="#0A800A" stroke-width="0.75"/>
<line x1="585.03" y1="185.3" x2="585.03" y2="200.3" stroke="#857272" stroke-width="1"/>
<rect x="582.33" y="185.3" width="5.4" height="10.90" fill="#F50000" stroke="#A00000" stroke-width="0.75"/>
<line x1="593.60" y1="188.3" x2="593.60" y2="203.3" stroke="#857272" stroke-width="1"/>
<rect x="590.90" y="196.4" width="5.4" height="1.60" fill="#F50000" stroke="#A00000" stroke-width="0.75"/>
<line x1="602.18" y1="192.3" x2="602.18" y2="213.7" stroke="#857272" stroke-width="1"/>
<rect x="599.48" y="199.6" width="5.4" height="8.80" fill="#F50000" stroke="#A00000" stroke-width="0.75"/>
<line x1="610.75" y1="208.9" x2="610.75" y2="232.1" stroke="#857272" stroke-width="1"/>
<rect x="608.05" y="208.9" width="5.4" height="13.80" fill="#F50000" stroke="#A00000" stroke-width="0.75"/>
<line x1="619.33" y1="215.3" x2="619.33" y2="230.8" stroke="#857272" stroke-width="1"/>
<rect x="616.63" y="222.2" width="5.4" height="6.30" fill="#F50000" stroke="#A00000" stroke-width="0.75"/>
<line x1="627.90" y1="218.8" x2="627.90" y2="255.2" stroke="#857272" stroke-width="1"/>
<rect x="625.20" y="228.5" width="5.4" height="24.80" fill="#F50000" stroke="#A00000" stroke-width="0.75"/>
<line x1="636.48" y1="238.4" x2="636.48" y2="254.0" stroke="#857272" stroke-width="1"/>
<rect x="633.78" y="243.4" width="5.4" height="10.60" fill="#00F000" stroke="#0A800A" stroke-width="0.75"/>
<line x1="645.05" y1="222.9" x2="645.05" y2="255.2" stroke="#857272" stroke-width="1"/>
<rect x="642.35" y="236.7" width="5.4" height="4.00" fill="#00F000" stroke="#0A800A" stroke-width="0.75"/>
<line x1="653.63" y1="232.6" x2="653.63" y2="247.6" stroke="#857272" stroke-width="1"/>
<rect x="650.93" y="236.7" width="5.4" height="5.60" fill="#F50000" stroke="#A00000" stroke-width="0.75"/>
<line x1="662.20" y1="231.4" x2="662.20" y2="242.4" stroke="#857272" stroke-width="1"/>
<rect x="659.50" y="238.7" width="5.4" height="3.70" fill="#00F000" stroke="#0A800A" stroke-width="0.75"/>
<line x1="670.78" y1="237.9" x2="670.78" y2="255.1" stroke="#857272" stroke-width="1"/>
<rect x="668.08" y="237.9" width="5.4" height="17.20" fill="#F50000" stroke="#A00000" stroke-width="0.75"/>
<line x1="679.35" y1="252.0" x2="679.35" y2="262.9" stroke="#857272" stroke-width="1"/>
<rect x="676.65" y="255.5" width="5.4" height="5.00" fill="#F50000" stroke="#A00000" stroke-width="0.75"/>
<line x1="687.93" y1="252.4" x2="687.93" y2="279.2" stroke="#857272" stroke-width="1"/>
<rect x="685.23" y="259.9" width="5.4" height="17.70" fill="#F50000" stroke="#A00000" stroke-width="0.75"/>
<line x1="696.50" y1="256.5" x2="696.50" y2="286.7" stroke="#857272" stroke-width="1"/>
<rect x="693.80" y="259.5" width="5.4" height="18.10" fill="#00F000" stroke="#0A800A" stroke-width="0.75"/>
<line x1="705.08" y1="240.3" x2="705.08" y2="268.0" stroke="#857272" stroke-width="1"/>
<rect x="702.38" y="240.3" width="5.4" height="19.20" fill="#00F000" stroke="#0A800A" stroke-width="0.75"/>
<line x1="713.65" y1="223.2" x2="713.65" y2="241.8" stroke="#857272" stroke-width="1"/>
<rect x="710.95" y="240.7" width="5.4" height="1.20" fill="#F50000" stroke="#A00000" stroke-width="0.75"/>
<line x1="722.23" y1="223.2" x2="722.23" y2="245.4" stroke="#857272" stroke-width="1"/>
<rect x="719.53" y="241.4" width="5.4" height="4.00" fill="#F50000" stroke="#A00000" stroke-width="0.75"/>
<line x1="730.80" y1="242.4" x2="730.80" y2="264.5" stroke="#857272" stroke-width="1"/>
<rect x="728.10" y="246.0" width="5.4" height="14.50" fill="#F50000" stroke="#A00000" stroke-width="0.75"/>
<line x1="739.38" y1="254.5" x2="739.38" y2="268.6" stroke="#857272" stroke-width="1"/>
<rect x="736.68" y="259.5" width="5.4" height="1.20" fill="#F50000" stroke="#A00000" stroke-width="0.75"/>
<line x1="747.95" y1="241.0" x2="747.95" y2="273.6" stroke="#857272" stroke-width="1"/>
<rect x="745.25" y="259.5" width="5.4" height="13.10" fill="#F50000" stroke="#A00000" stroke-width="0.75"/>
<line x1="756.53" y1="237.3" x2="756.53" y2="272.6" stroke="#857272" stroke-width="1"/>
<rect x="753.83" y="241.4" width="5.4" height="31.20" fill="#00F000" stroke="#0A800A" stroke-width="0.75"/>
<line x1="765.10" y1="233.3" x2="765.10" y2="253.8" stroke="#857272" stroke-width="1"/>
<rect x="762.40" y="241.8" width="5.4" height="7.20" fill="#F50000" stroke="#A00000" stroke-width="0.75"/>
<line x1="773.68" y1="249.0" x2="773.68" y2="257.5" stroke="#857272" stroke-width="1"/>
<rect x="770.98" y="249.0" width="5.4" height="5.50" fill="#F50000" stroke="#A00000" stroke-width="0.75"/>
<line x1="782.25" y1="252.4" x2="782.25" y2="274.6" stroke="#857272" stroke-width="1"/>
<rect x="779.55" y="260.2" width="5.4" height="10.30" fill="#F50000" stroke="#A00000" stroke-width="0.75"/>
<line x1="790.83" y1="269.2" x2="790.83" y2="282.8" stroke="#857272" stroke-width="1"/>
<rect x="788.13" y="269.2" width="5.4" height="4.10" fill="#F50000" stroke="#A00000" stroke-width="0.75"/>
<line x1="799.40" y1="274.0" x2="799.40" y2="294.8" stroke="#857272" stroke-width="1"/>
<rect x="796.70" y="274.0" width="5.4" height="20.80" fill="#F50000" stroke="#A00000" stroke-width="0.75"/>
<line x1="807.98" y1="295.6" x2="807.98" y2="314.7" stroke="#857272" stroke-width="1"/>
<rect x="805.28" y="295.6" width="5.4" height="13.60" fill="#F50000" stroke="#A00000" stroke-width="0.75"/>
<line x1="816.55" y1="310.4" x2="816.55" y2="337.5" stroke="#857272" stroke-width="1"/>
<rect x="813.85" y="310.4" width="5.4" height="13.50" fill="#F50000" stroke="#A00000" stroke-width="0.75"/>
<line x1="825.13" y1="315.5" x2="825.13" y2="336.3" stroke="#857272" stroke-width="1"/>
<rect x="822.43" y="323.1" width="5.4" height="9.20" fill="#F50000" stroke="#A00000" stroke-width="0.75"/>
<line x1="833.70" y1="320.3" x2="833.70" y2="339.9" stroke="#857272" stroke-width="1"/>
<rect x="831.00" y="320.3" width="5.4" height="12.90" fill="#00F000" stroke="#0A800A" stroke-width="0.75"/>
<line x1="842.28" y1="310.7" x2="842.28" y2="325.5" stroke="#857272" stroke-width="1"/>
<rect x="839.58" y="321.5" width="5.4" height="1.60" fill="#F50000" stroke="#A00000" stroke-width="0.75"/>
<line x1="850.85" y1="290.3" x2="850.85" y2="326.7" stroke="#857272" stroke-width="1"/>
<rect x="848.15" y="319.1" width="5.4" height="3.30" fill="#00F000" stroke="#0A800A" stroke-width="0.75"/>
<line x1="859.43" y1="303.5" x2="859.43" y2="332.3" stroke="#857272" stroke-width="1"/>
<rect x="856.73" y="319.1" width="5.4" height="13.20" fill="#F50000" stroke="#A00000" stroke-width="0.75"/>
<line x1="868.00" y1="241.6" x2="868.00" y2="332.0" stroke="#857272" stroke-width="1"/>
<rect x="865.30" y="243.3" width="5.4" height="88.70" fill="#00F000" stroke="#0A800A" stroke-width="0.75"/>
<line x1="876.58" y1="224.8" x2="876.58" y2="268.0" stroke="#857272" stroke-width="1"/>
<rect x="873.88" y="243.5" width="5.4" height="23.30" fill="#F50000" stroke="#A00000" stroke-width="0.75"/>
<line x1="885.15" y1="248.8" x2="885.15" y2="347.6" stroke="#857272" stroke-width="1"/>
<rect x="882.45" y="266.8" width="5.4" height="64.70" fill="#F50000" stroke="#A00000" stroke-width="0.75"/>
<line x1="893.73" y1="314.2" x2="893.73" y2="344.1" stroke="#857272" stroke-width="1"/>
<rect x="891.03" y="321.5" width="5.4" height="10.00" fill="#00F000" stroke="#0A800A" stroke-width="0.75"/>
<line x1="902.30" y1="295.7" x2="902.30" y2="369.5" stroke="#857272" stroke-width="1"/>
<rect x="899.60" y="321.5" width="5.4" height="48.00" fill="#F50000" stroke="#A00000" stroke-width="0.75"/>
<line x1="910.88" y1="334.9" x2="910.88" y2="368.3" stroke="#857272" stroke-width="1"/>
<rect x="908.18" y="338.4" width="5.4" height="29.90" fill="#00F000" stroke="#0A800A" stroke-width="0.75"/>
<line x1="919.45" y1="324.1" x2="919.45" y2="364.9" stroke="#857272" stroke-width="1"/>
<rect x="916.75" y="324.1" width="5.4" height="15.40" fill="#00F000" stroke="#0A800A" stroke-width="0.75"/>
<line x1="928.03" y1="259.0" x2="928.03" y2="324.1" stroke="#857272" stroke-width="1"/>
<rect x="925.33" y="288.2" width="5.4" height="35.90" fill="#00F000" stroke="#0A800A" stroke-width="0.75"/>
<line x1="936.60" y1="266.5" x2="936.60" y2="288.1" stroke="#857272" stroke-width="1"/>
<rect x="933.90" y="278.0" width="5.4" height="10.10" fill="#00F000" stroke="#0A800A" stroke-width="0.75"/>
<line x1="945.18" y1="237.1" x2="945.18" y2="280.3" stroke="#857272" stroke-width="1"/>
<rect x="942.48" y="245.8" width="5.4" height="31.60" fill="#00F000" stroke="#0A800A" stroke-width="0.75"/>
<line x1="953.75" y1="228.2" x2="953.75" y2="299.6" stroke="#857272" stroke-width="1"/>
<rect x="951.05" y="246.9" width="5.4" height="52.70" fill="#F50000" stroke="#A00000" stroke-width="0.75"/>
<line x1="962.33" y1="250.1" x2="962.33" y2="299.6" stroke="#857272" stroke-width="1"/>
<rect x="959.63" y="250.1" width="5.4" height="49.50" fill="#00F000" stroke="#0A800A" stroke-width="0.75"/>
<line x1="970.90" y1="213.8" x2="970.90" y2="254.1" stroke="#857272" stroke-width="1"/>
<rect x="968.20" y="221.3" width="5.4" height="27.90" fill="#00F000" stroke="#0A800A" stroke-width="0.75"/>
<line x1="979.48" y1="201.2" x2="979.48" y2="236.3" stroke="#857272" stroke-width="1"/>
<rect x="976.78" y="220.5" width="5.4" height="3.70" fill="#F50000" stroke="#A00000" stroke-width="0.75"/>
<line x1="988.05" y1="165.8" x2="988.05" y2="242.0" stroke="#857272" stroke-width="1"/>
<rect x="985.35" y="175.0" width="5.4" height="49.20" fill="#00F000" stroke="#0A800A" stroke-width="0.75"/>
<line x1="996.63" y1="173.0" x2="996.63" y2="199.5" stroke="#857272" stroke-width="1"/>
<rect x="993.93" y="175.3" width="5.4" height="11.20" fill="#F50000" stroke="#A00000" stroke-width="0.75"/>
</g>
<clipPath id="vlow"><rect x="0" y="408.8" width="1024" height="95"/></clipPath><g clip-path="url(#vlow)">
<line x1="164.8" y1="16.8" x2="164.8" y2="493.6" stroke="#747AB0" stroke-width="1" stroke-dasharray="8.9 3.77"/>
<line x1="267.6" y1="16.8" x2="267.6" y2="493.6" stroke="#747AB0" stroke-width="1" stroke-dasharray="8.9 3.77"/>
<line x1="439.3" y1="16.8" x2="439.3" y2="493.6" stroke="#747AB0" stroke-width="1" stroke-dasharray="8.9 3.77"/>
<line x1="456.6" y1="16.8" x2="456.6" y2="493.6" stroke="#747AB0" stroke-width="1" stroke-dasharray="8.9 3.77"/>
<line x1="542.3" y1="16.8" x2="542.3" y2="493.6" stroke="#747AB0" stroke-width="1" stroke-dasharray="8.9 3.77"/>
<line x1="559.4" y1="16.8" x2="559.4" y2="493.6" stroke="#747AB0" stroke-width="1" stroke-dasharray="8.9 3.77"/>
<line x1="645.2" y1="16.8" x2="645.2" y2="493.6" stroke="#747AB0" stroke-width="1" stroke-dasharray="8.9 3.77"/>
<line x1="705.3" y1="16.8" x2="705.3" y2="493.6" stroke="#747AB0" stroke-width="1" stroke-dasharray="8.9 3.77"/>
<line x1="722.4" y1="16.8" x2="722.4" y2="493.6" stroke="#747AB0" stroke-width="1" stroke-dasharray="8.9 3.77"/>
<line x1="739.5" y1="16.8" x2="739.5" y2="493.6" stroke="#747AB0" stroke-width="1" stroke-dasharray="8.9 3.77"/>
<line x1="773.9" y1="16.8" x2="773.9" y2="493.6" stroke="#747AB0" stroke-width="1" stroke-dasharray="8.9 3.77"/>
<line x1="791" y1="16.8" x2="791" y2="493.6" stroke="#747AB0" stroke-width="1" stroke-dasharray="8.9 3.77"/>
<line x1="808.1" y1="16.8" x2="808.1" y2="493.6" stroke="#747AB0" stroke-width="1" stroke-dasharray="8.9 3.77"/>
<line x1="885.5" y1="16.8" x2="885.5" y2="493.6" stroke="#747AB0" stroke-width="1" stroke-dasharray="8.9 3.77"/>
<line x1="928.5" y1="16.8" x2="928.5" y2="493.6" stroke="#747AB0" stroke-width="1" stroke-dasharray="8.9 3.77"/>
</g>
<rect x="8.50" y="416.2" width="4" height="29.40" rx="1.6" fill="#B0B0B0" stroke="#828282" stroke-width="0.7"/>
<rect x="17.08" y="419.5" width="4" height="12.70" rx="1.6" fill="#B0B0B0" stroke="#828282" stroke-width="0.7"/>
<rect x="25.65" y="416.2" width="4" height="17.90" rx="1.6" fill="#B0B0B0" stroke="#828282" stroke-width="0.7"/>
<rect x="34.23" y="430.1" width="4" height="37.50" rx="1.6" fill="#B0B0B0" stroke="#828282" stroke-width="0.7"/>
<rect x="42.80" y="444.3" width="4" height="22.50" rx="1.6" fill="#B0B0B0" stroke="#828282" stroke-width="0.7"/>
<rect x="51.38" y="437.1" width="4" height="23.50" rx="1.6" fill="#B0B0B0" stroke="#828282" stroke-width="0.7"/>
<rect x="59.95" y="433.7" width="4" height="16.80" rx="1.6" fill="#B0B0B0" stroke="#828282" stroke-width="0.7"/>
<rect x="68.53" y="434.1" width="4" height="18.30" rx="1.6" fill="#B0B0B0" stroke="#828282" stroke-width="0.7"/>
<rect x="77.11" y="431.2" width="4" height="20.10" rx="1.6" fill="#B0B0B0" stroke="#828282" stroke-width="0.7"/>
<rect x="85.68" y="435.8" width="4" height="13.40" rx="1.6" fill="#B0B0B0" stroke="#828282" stroke-width="0.7"/>
<rect x="94.25" y="419.1" width="4" height="21.60" rx="1.6" fill="#B0B0B0" stroke="#828282" stroke-width="0.7"/>
<rect x="102.83" y="421.1" width="4" height="17.10" rx="1.6" fill="#B0B0B0" stroke="#828282" stroke-width="0.7"/>
<rect x="111.41" y="432.2" width="4" height="30.50" rx="1.6" fill="#B0B0B0" stroke="#828282" stroke-width="0.7"/>
<rect x="119.98" y="448.5" width="4" height="19.00" rx="1.6" fill="#B0B0B0" stroke="#828282" stroke-width="0.7"/>
<rect x="119.98" y="466.5" width="4" height="8.70" rx="1.6" fill="#177017" stroke="#0A4A0A" stroke-width="0.6"/>
<rect x="128.56" y="446.0" width="4" height="21.50" rx="1.6" fill="#B0B0B0" stroke="#828282" stroke-width="0.7"/>
<rect x="128.56" y="466.5" width="4" height="12.00" rx="1.6" fill="#177017" stroke="#0A4A0A" stroke-width="0.6"/>
<rect x="137.13" y="451.4" width="4" height="16.10" rx="1.6" fill="#B0B0B0" stroke="#828282" stroke-width="0.7"/>
<rect x="137.13" y="466.5" width="4" height="14.00" rx="1.6" fill="#177017" stroke="#0A4A0A" stroke-width="0.6"/>
<rect x="145.70" y="451.4" width="4" height="16.10" rx="1.6" fill="#B0B0B0" stroke="#828282" stroke-width="0.7"/>
<rect x="145.70" y="466.5" width="4" height="7.90" rx="1.6" fill="#177017" stroke="#0A4A0A" stroke-width="0.6"/>
<rect x="154.28" y="446.4" width="4" height="17.30" rx="1.6" fill="#B0B0B0" stroke="#828282" stroke-width="0.7"/>
<rect x="162.85" y="427.3" width="4" height="20.00" rx="1.6" fill="#B0B0B0" stroke="#828282" stroke-width="0.7"/>
<rect x="171.43" y="419.2" width="4" height="14.30" rx="1.6" fill="#B0B0B0" stroke="#828282" stroke-width="0.7"/>
<rect x="180.00" y="418.4" width="4" height="28.40" rx="1.6" fill="#B0B0B0" stroke="#828282" stroke-width="0.7"/>
<rect x="188.58" y="415.8" width="4" height="28.70" rx="1.6" fill="#B0B0B0" stroke="#828282" stroke-width="0.7"/>
<rect x="197.16" y="415.8" width="4" height="25.60" rx="1.6" fill="#B0B0B0" stroke="#828282" stroke-width="0.7"/>
<rect x="205.73" y="418.4" width="4" height="15.10" rx="1.6" fill="#B0B0B0" stroke="#828282" stroke-width="0.7"/>
<rect x="214.30" y="423.8" width="4" height="17.30" rx="1.6" fill="#B0B0B0" stroke="#828282" stroke-width="0.7"/>
<rect x="222.88" y="421.8" width="4" height="23.50" rx="1.6" fill="#B0B0B0" stroke="#828282" stroke-width="0.7"/>
<rect x="231.45" y="427.6" width="4" height="17.70" rx="1.6" fill="#B0B0B0" stroke="#828282" stroke-width="0.7"/>
<rect x="240.03" y="428.7" width="4" height="17.00" rx="1.6" fill="#B0B0B0" stroke="#828282" stroke-width="0.7"/>
<rect x="248.60" y="421.3" width="4" height="27.60" rx="1.6" fill="#B0B0B0" stroke="#828282" stroke-width="0.7"/>
<rect x="257.18" y="410.4" width="4" height="28.70" rx="1.6" fill="#B0B0B0" stroke="#828282" stroke-width="0.7"/>
<rect x="257.18" y="405.4" width="4" height="6.00" rx="1.6" fill="#FF1010"/>
<rect x="265.75" y="419.5" width="4" height="18.10" rx="1.6" fill="#B0B0B0" stroke="#828282" stroke-width="0.7"/>
<rect x="274.33" y="419.6" width="4" height="20.00" rx="1.6" fill="#B0B0B0" stroke="#828282" stroke-width="0.7"/>
<rect x="282.90" y="436.5" width="4" height="15.70" rx="1.6" fill="#B0B0B0" stroke="#828282" stroke-width="0.7"/>
<rect x="291.48" y="442.2" width="4" height="12.30" rx="1.6" fill="#B0B0B0" stroke="#828282" stroke-width="0.7"/>
<rect x="300.06" y="434.5" width="4" height="18.50" rx="1.6" fill="#B0B0B0" stroke="#828282" stroke-width="0.7"/>
<rect x="308.63" y="429.9" width="4" height="35.30" rx="1.6" fill="#B0B0B0" stroke="#828282" stroke-width="0.7"/>
<rect x="317.20" y="442.2" width="4" height="20.00" rx="1.6" fill="#B0B0B0" stroke="#828282" stroke-width="0.7"/>
<rect x="325.78" y="438.1" width="4" height="19.50" rx="1.6" fill="#B0B0B0" stroke="#828282" stroke-width="0.7"/>
<rect x="334.35" y="424.3" width="4" height="19.90" rx="1.6" fill="#B0B0B0" stroke="#828282" stroke-width="0.7"/>
<rect x="342.93" y="427.3" width="4" height="23.70" rx="1.6" fill="#B0B0B0" stroke="#828282" stroke-width="0.7"/>
<rect x="351.50" y="439.6" width="4" height="27.90" rx="1.6" fill="#B0B0B0" stroke="#828282" stroke-width="0.7"/>
<rect x="351.50" y="466.5" width="4" height="6.90" rx="1.6" fill="#177017" stroke="#0A4A0A" stroke-width="0.6"/>
<rect x="360.08" y="457.1" width="4" height="10.40" rx="1.6" fill="#B0B0B0" stroke="#828282" stroke-width="0.7"/>
<rect x="360.08" y="466.5" width="4" height="4.10" rx="1.6" fill="#177017" stroke="#0A4A0A" stroke-width="0.6"/>
<rect x="368.65" y="453.7" width="4" height="13.80" rx="1.6" fill="#B0B0B0" stroke="#828282" stroke-width="0.7"/>
<rect x="377.23" y="441.7" width="4" height="18.50" rx="1.6" fill="#B0B0B0" stroke="#828282" stroke-width="0.7"/>
<rect x="385.80" y="435.0" width="4" height="20.60" rx="1.6" fill="#B0B0B0" stroke="#828282" stroke-width="0.7"/>
<rect x="394.38" y="429.5" width="4" height="20.40" rx="1.6" fill="#B0B0B0" stroke="#828282" stroke-width="0.7"/>
<rect x="402.95" y="421.5" width="4" height="22.20" rx="1.6" fill="#B0B0B0" stroke="#828282" stroke-width="0.7"/>
<rect x="411.53" y="428.4" width="4" height="14.30" rx="1.6" fill="#B0B0B0" stroke="#828282" stroke-width="0.7"/>
<rect x="420.10" y="422.7" width="4" height="16.40" rx="1.6" fill="#B0B0B0" stroke="#828282" stroke-width="0.7"/>
<rect x="428.68" y="416.6" width="4" height="21.50" rx="1.6" fill="#B0B0B0" stroke="#828282" stroke-width="0.7"/>
<rect x="437.25" y="422.3" width="4" height="17.90" rx="1.6" fill="#B0B0B0" stroke="#828282" stroke-width="0.7"/>
<rect x="445.83" y="427.9" width="4" height="16.60" rx="1.6" fill="#B0B0B0" stroke="#828282" stroke-width="0.7"/>
<rect x="454.40" y="435.6" width="4" height="16.30" rx="1.6" fill="#B0B0B0" stroke="#828282" stroke-width="0.7"/>
<rect x="462.98" y="434.5" width="4" height="16.90" rx="1.6" fill="#B0B0B0" stroke="#828282" stroke-width="0.7"/>
<rect x="471.55" y="443.7" width="4" height="21.50" rx="1.6" fill="#B0B0B0" stroke="#828282" stroke-width="0.7"/>
<rect x="480.13" y="445.7" width="4" height="21.80" rx="1.6" fill="#B0B0B0" stroke="#828282" stroke-width="0.7"/>
<rect x="488.70" y="436.5" width="4" height="19.80" rx="1.6" fill="#B0B0B0" stroke="#828282" stroke-width="0.7"/>
<rect x="497.28" y="435.6" width="4" height="21.50" rx="1.6" fill="#B0B0B0" stroke="#828282" stroke-width="0.7"/>
<rect x="505.85" y="428.4" width="4" height="29.60" rx="1.6" fill="#B0B0B0" stroke="#828282" stroke-width="0.7"/>
<rect x="514.43" y="415.0" width="4" height="25.20" rx="1.6" fill="#B0B0B0" stroke="#828282" stroke-width="0.7"/>
<rect x="523.00" y="422.7" width="4" height="14.40" rx="1.6" fill="#B0B0B0" stroke="#828282" stroke-width="0.7"/>
<rect x="531.58" y="420.7" width="4" height="23.50" rx="1.6" fill="#B0B0B0" stroke="#828282" stroke-width="0.7"/>
<rect x="540.15" y="434.5" width="4" height="16.20" rx="1.6" fill="#B0B0B0" stroke="#828282" stroke-width="0.7"/>
<rect x="548.73" y="440.2" width="4" height="20.00" rx="1.6" fill="#B0B0B0" stroke="#828282" stroke-width="0.7"/>
<rect x="557.30" y="437.6" width="4" height="17.70" rx="1.6" fill="#B0B0B0" stroke="#828282" stroke-width="0.7"/>
<rect x="565.88" y="431.5" width="4" height="20.70" rx="1.6" fill="#B0B0B0" stroke="#828282" stroke-width="0.7"/>
<rect x="574.45" y="419.2" width="4" height="21.50" rx="1.6" fill="#B0B0B0" stroke="#828282" stroke-width="0.7"/>
<rect x="583.03" y="429.9" width="4" height="15.80" rx="1.6" fill="#B0B0B0" stroke="#828282" stroke-width="0.7"/>
<rect x="591.60" y="434.5" width="4" height="14.90" rx="1.6" fill="#B0B0B0" stroke="#828282" stroke-width="0.7"/>
<rect x="600.18" y="436.5" width="4" height="21.50" rx="1.6" fill="#B0B0B0" stroke="#828282" stroke-width="0.7"/>
<rect x="608.75" y="445.3" width="4" height="23.50" rx="1.6" fill="#B0B0B0" stroke="#828282" stroke-width="0.7"/>
<rect x="617.33" y="444.2" width="4" height="18.40" rx="1.6" fill="#B0B0B0" stroke="#828282" stroke-width="0.7"/>
<rect x="625.90" y="440.2" width="4" height="27.30" rx="1.6" fill="#B0B0B0" stroke="#828282" stroke-width="0.7"/>
<rect x="625.90" y="466.5" width="4" height="4.40" rx="1.6" fill="#177017" stroke="#0A4A0A" stroke-width="0.6"/>
<rect x="634.48" y="447.9" width="4" height="14.70" rx="1.6" fill="#B0B0B0" stroke="#828282" stroke-width="0.7"/>
<rect x="643.05" y="430.4" width="4" height="23.60" rx="1.6" fill="#B0B0B0" stroke="#828282" stroke-width="0.7"/>
<rect x="651.63" y="435.0" width="4" height="14.90" rx="1.6" fill="#B0B0B0" stroke="#828282" stroke-width="0.7"/>
<rect x="660.20" y="431.2" width="4" height="13.00" rx="1.6" fill="#B0B0B0" stroke="#828282" stroke-width="0.7"/>
<rect x="668.78" y="433.5" width="4" height="20.50" rx="1.6" fill="#B0B0B0" stroke="#828282" stroke-width="0.7"/>
<rect x="677.35" y="445.3" width="4" height="14.90" rx="1.6" fill="#B0B0B0" stroke="#828282" stroke-width="0.7"/>
<rect x="685.93" y="439.6" width="4" height="27.90" rx="1.6" fill="#B0B0B0" stroke="#828282" stroke-width="0.7"/>
<rect x="685.93" y="466.5" width="4" height="4.90" rx="1.6" fill="#177017" stroke="#0A4A0A" stroke-width="0.6"/>
<rect x="694.50" y="438.7" width="4" height="29.60" rx="1.6" fill="#B0B0B0" stroke="#828282" stroke-width="0.7"/>
<rect x="703.08" y="423.8" width="4" height="23.50" rx="1.6" fill="#B0B0B0" stroke="#828282" stroke-width="0.7"/>
<rect x="711.65" y="413.0" width="4" height="16.20" rx="1.6" fill="#B0B0B0" stroke="#828282" stroke-width="0.7"/>
<rect x="720.23" y="419.2" width="4" height="19.90" rx="1.6" fill="#B0B0B0" stroke="#828282" stroke-width="0.7"/>
<rect x="728.80" y="432.2" width="4" height="18.80" rx="1.6" fill="#B0B0B0" stroke="#828282" stroke-width="0.7"/>
<rect x="737.38" y="443.0" width="4" height="15.00" rx="1.6" fill="#B0B0B0" stroke="#828282" stroke-width="0.7"/>
<rect x="745.95" y="432.2" width="4" height="28.00" rx="1.6" fill="#B0B0B0" stroke="#828282" stroke-width="0.7"/>
<rect x="754.53" y="426.9" width="4" height="27.60" rx="1.6" fill="#B0B0B0" stroke="#828282" stroke-width="0.7"/>
<rect x="763.10" y="423.3" width="4" height="17.40" rx="1.6" fill="#B0B0B0" stroke="#828282" stroke-width="0.7"/>
<rect x="771.68" y="432.5" width="4" height="11.20" rx="1.6" fill="#B0B0B0" stroke="#828282" stroke-width="0.7"/>
<rect x="780.25" y="436.5" width="4" height="19.50" rx="1.6" fill="#B0B0B0" stroke="#828282" stroke-width="0.7"/>
<rect x="788.83" y="438.1" width="4" height="21.00" rx="1.6" fill="#B0B0B0" stroke="#828282" stroke-width="0.7"/>
<rect x="797.40" y="445.3" width="4" height="22.20" rx="1.6" fill="#B0B0B0" stroke="#828282" stroke-width="0.7"/>
<rect x="797.40" y="466.5" width="4" height="3.30" rx="1.6" fill="#177017" stroke="#0A4A0A" stroke-width="0.6"/>
<rect x="805.98" y="451.4" width="4" height="16.10" rx="1.6" fill="#B0B0B0" stroke="#828282" stroke-width="0.7"/>
<rect x="805.98" y="466.5" width="4" height="9.00" rx="1.6" fill="#177017" stroke="#0A4A0A" stroke-width="0.6"/>
<rect x="814.55" y="452.5" width="4" height="15.00" rx="1.6" fill="#B0B0B0" stroke="#828282" stroke-width="0.7"/>
<rect x="814.55" y="466.5" width="4" height="9.00" rx="1.6" fill="#177017" stroke="#0A4A0A" stroke-width="0.6"/>
<rect x="823.13" y="447.9" width="4" height="19.30" rx="1.6" fill="#B0B0B0" stroke="#828282" stroke-width="0.7"/>
<rect x="831.70" y="442.2" width="4" height="18.40" rx="1.6" fill="#B0B0B0" stroke="#828282" stroke-width="0.7"/>
<rect x="840.28" y="430.4" width="4" height="14.90" rx="1.6" fill="#B0B0B0" stroke="#828282" stroke-width="0.7"/>
<rect x="848.85" y="415.3" width="4" height="30.00" rx="1.6" fill="#B0B0B0" stroke="#828282" stroke-width="0.7"/>
<rect x="857.43" y="425.8" width="4" height="26.70" rx="1.6" fill="#B0B0B0" stroke="#828282" stroke-width="0.7"/>
<rect x="866.00" y="409.5" width="4" height="40.40" rx="1.6" fill="#B0B0B0" stroke="#828282" stroke-width="0.7"/>
<rect x="866.00" y="405.8" width="4" height="4.70" rx="1.6" fill="#FF1010"/>
<rect x="874.58" y="409.2" width="4" height="20.00" rx="1.6" fill="#B0B0B0" stroke="#828282" stroke-width="0.7"/>
<rect x="883.15" y="425.3" width="4" height="32.30" rx="1.6" fill="#B0B0B0" stroke="#828282" stroke-width="0.7"/>
<rect x="891.73" y="443.7" width="4" height="10.80" rx="1.6" fill="#B0B0B0" stroke="#828282" stroke-width="0.7"/>
<rect x="900.30" y="437.1" width="4" height="23.10" rx="1.6" fill="#B0B0B0" stroke="#828282" stroke-width="0.7"/>
<rect x="908.88" y="445.3" width="4" height="14.30" rx="1.6" fill="#B0B0B0" stroke="#828282" stroke-width="0.7"/>
<rect x="917.45" y="435.0" width="4" height="16.00" rx="1.6" fill="#B0B0B0" stroke="#828282" stroke-width="0.7"/>
<rect x="926.03" y="414.6" width="4" height="24.60" rx="1.6" fill="#B0B0B0" stroke="#828282" stroke-width="0.7"/>
<rect x="934.60" y="417.2" width="4" height="11.20" rx="1.6" fill="#B0B0B0" stroke="#828282" stroke-width="0.7"/>
<rect x="943.18" y="410.0" width="4" height="19.20" rx="1.6" fill="#B0B0B0" stroke="#828282" stroke-width="0.7"/>
<rect x="943.18" y="406.9" width="4" height="4.10" rx="1.6" fill="#FF1010"/>
<rect x="951.75" y="415.4" width="4" height="30.40" rx="1.6" fill="#B0B0B0" stroke="#828282" stroke-width="0.7"/>
<rect x="960.33" y="428.4" width="4" height="21.50" rx="1.6" fill="#B0B0B0" stroke="#828282" stroke-width="0.7"/>
<rect x="968.90" y="419.2" width="4" height="18.40" rx="1.6" fill="#B0B0B0" stroke="#828282" stroke-width="0.7"/>
<rect x="977.48" y="420.0" width="4" height="15.30" rx="1.6" fill="#B0B0B0" stroke="#828282" stroke-width="0.7"/>
<rect x="986.05" y="414.1" width="4" height="27.40" rx="1.6" fill="#B0B0B0" stroke="#828282" stroke-width="0.7"/>
<rect x="994.63" y="418.1" width="4" height="13.40" rx="1.6" fill="#B0B0B0" stroke="#828282" stroke-width="0.7"/>
<rect x="1004.5" y="407" width="20" height="6" fill="#FF0000"/>
<text x="1006" y="412.3" font-size="6" fill="#FFFFFF" font-family="Liberation Sans">0.0000</text>
<rect x="1005" y="465.3" width="19" height="5.5" fill="#0A6A0A"/>
<text x="1005.5" y="470.3" font-size="6" fill="#FFFFFF" font-family="Liberation Sans">-0.0000</text>
<text x="949" y="32.8" font-size="15" font-weight="bold" fill="#111" font-family="Liberation Sans">1.08284</text>
<path d="M841 16.5 L845 16.5 L843 19 Z" fill="#111"/>
<text x="7" y="334.1" font-family="Liberation Sans" font-weight="bold" font-size="7.7" fill="#FF2020" textLength="94.6" lengthAdjust="spacingAndGlyphs">Impact: 0 mins until until :</text>
<text x="7" y="341.7" font-family="Liberation Sans" font-weight="bold" font-size="7.7" fill="#1E1EA0" textLength="70.4" lengthAdjust="spacingAndGlyphs">0 mins until until : :</text>
<text x="7" y="358.8" font-family="Liberation Sans" font-weight="bold" font-size="7.7" fill="#FF20FF" textLength="59" lengthAdjust="spacingAndGlyphs">Impact: Medium</text>
<text x="7" y="366.7" font-family="Liberation Sans" font-weight="bold" font-size="7.7" fill="#1E1EA0" textLength="238.6" lengthAdjust="spacingAndGlyphs">1 days 2 hrs 13 mins since USD: FOMC Member Fischer Speaks</text>
<text x="144.4" y="493" font-family="Liberation Sans" font-weight="bold" font-size="15" fill="#000">CALL</text>
<text x="252.8" y="493" font-family="Liberation Sans" font-weight="bold" font-size="15" fill="#000">PUT</text>
<text x="435.8" y="490.4" font-family="Liberation Sans" font-weight="bold" font-size="15" fill="#000">PUT</text>
<text x="538.1" y="492.5" font-family="Liberation Sans" font-weight="bold" font-size="15" fill="#000">PUT</text>
<text x="626.2" y="492.5" font-family="Liberation Sans" font-weight="bold" font-size="15" fill="#000">CALL</text>
<text x="720.9" y="493.1" font-family="Liberation Sans" font-weight="bold" font-size="15" fill="#000">PUT</text>
<text x="803.4" y="492.3" font-family="Liberation Sans" font-weight="bold" font-size="15" fill="#000">PUT</text>
<text x="869.4" y="493.6" font-family="Liberation Sans" font-weight="bold" font-size="15" fill="#000">PUT</text>
<text x="909.5" y="492.6" font-family="Liberation Sans" font-weight="bold" font-size="15" fill="#000">CALL</text>
<rect x="143" y="495" width="43.40" height="6" fill="#1F4F9F"/>
<text x="164.70" y="500.3" text-anchor="middle" font-size="5.6" fill="#E8F0FF" font-family="Liberation Sans" textLength="41.40" lengthAdjust="spacingAndGlyphs">2015.07.16 08:45</text>
<rect x="246" y="495" width="42.40" height="6" fill="#1F4F9F"/>
<text x="267.20" y="500.3" text-anchor="middle" font-size="5.6" fill="#E8F0FF" font-family="Liberation Sans" textLength="40.40" lengthAdjust="spacingAndGlyphs">2015.07.16 09:45</text>
<rect x="417.4" y="495" width="60.20" height="6" fill="#1F4F9F"/>
<text x="447.50" y="500.3" text-anchor="middle" font-size="5.6" fill="#E8F0FF" font-family="Liberation Sans" textLength="58.20" lengthAdjust="spacingAndGlyphs">2015.0 2015.07.16 11:35</text>
<rect x="520.5" y="495" width="60.20" height="6" fill="#1F4F9F"/>
<text x="550.60" y="500.3" text-anchor="middle" font-size="5.6" fill="#E8F0FF" font-family="Liberation Sans" textLength="58.20" lengthAdjust="spacingAndGlyphs">2015.0 2015.07.16 12:35</text>
<rect x="623.4" y="495" width="43.00" height="6" fill="#1F4F9F"/>
<text x="644.90" y="500.3" text-anchor="middle" font-size="5.6" fill="#E8F0FF" font-family="Liberation Sans" textLength="41.00" lengthAdjust="spacingAndGlyphs">2015.07.16 13:25</text>
<rect x="683.9" y="495" width="145.30" height="6" fill="#1F4F9F"/>
<text x="756.55" y="500.3" text-anchor="middle" font-size="5.6" fill="#E8F0FF" font-family="Liberation Sans" textLength="143.30" lengthAdjust="spacingAndGlyphs">2015.0 2015.0 2015.07.16 14: 2015.0 2015.07.16 14:50 | 15:00</text>
<rect x="863.75" y="495" width="85.65" height="6" fill="#1F4F9F"/>
<text x="906.58" y="500.3" text-anchor="middle" font-size="5.6" fill="#E8F0FF" font-family="Liberation Sans" textLength="83.65" lengthAdjust="spacingAndGlyphs">2015.07.16 15:45 · 2015.07.16 16:10</text>
<clipPath id="lowclip"><rect x="0" y="404" width="1024" height="74"/></clipPath><g clip-path="url(#lowclip)">
<line x1="164.8" y1="16.8" x2="164.8" y2="493.6" stroke="#747AB0" stroke-width="1" stroke-dasharray="8.9 3.77"/>
<line x1="267.6" y1="16.8" x2="267.6" y2="493.6" stroke="#747AB0" stroke-width="1" stroke-dasharray="8.9 3.77"/>
<line x1="439.3" y1="16.8" x2="439.3" y2="493.6" stroke="#747AB0" stroke-width="1" stroke-dasharray="8.9 3.77"/>
<line x1="456.6" y1="16.8" x2="456.6" y2="493.6" stroke="#747AB0" stroke-width="1" stroke-dasharray="8.9 3.77"/>
<line x1="542.3" y1="16.8" x2="542.3" y2="493.6" stroke="#747AB0" stroke-width="1" stroke-dasharray="8.9 3.77"/>
<line x1="559.4" y1="16.8" x2="559.4" y2="493.6" stroke="#747AB0" stroke-width="1" stroke-dasharray="8.9 3.77"/>
<line x1="645.2" y1="16.8" x2="645.2" y2="493.6" stroke="#747AB0" stroke-width="1" stroke-dasharray="8.9 3.77"/>
<line x1="705.3" y1="16.8" x2="705.3" y2="493.6" stroke="#747AB0" stroke-width="1" stroke-dasharray="8.9 3.77"/>
<line x1="722.4" y1="16.8" x2="722.4" y2="493.6" stroke="#747AB0" stroke-width="1" stroke-dasharray="8.9 3.77"/>
<line x1="739.5" y1="16.8" x2="739.5" y2="493.6" stroke="#747AB0" stroke-width="1" stroke-dasharray="8.9 3.77"/>
<line x1="773.9" y1="16.8" x2="773.9" y2="493.6" stroke="#747AB0" stroke-width="1" stroke-dasharray="8.9 3.77"/>
<line x1="791" y1="16.8" x2="791" y2="493.6" stroke="#747AB0" stroke-width="1" stroke-dasharray="8.9 3.77"/>
<line x1="808.1" y1="16.8" x2="808.1" y2="493.6" stroke="#747AB0" stroke-width="1" stroke-dasharray="8.9 3.77"/>
<line x1="885.5" y1="16.8" x2="885.5" y2="493.6" stroke="#747AB0" stroke-width="1" stroke-dasharray="8.9 3.77"/>
<line x1="928.5" y1="16.8" x2="928.5" y2="493.6" stroke="#747AB0" stroke-width="1" stroke-dasharray="8.9 3.77"/>
</g>
<rect x="0" y="503" width="1024" height="18" fill="#F0F0F0"/>
<rect x="0" y="503" width="1024" height="1.2" fill="#9A9A9A"/>
<rect x="1.2" y="503" width="42.5" height="10.5" fill="#FAFAFA" stroke="#3A3A3A" stroke-width="1"/>
<rect x="1.5" y="502.6" width="42" height="1.2" fill="#FAFAFA"/>
<text x="7" y="511" font-family="Liberation Sans" font-size="7.2" fill="#1A1A1A" stroke="#1A1A1A" stroke-width="0.2" textLength="31" lengthAdjust="spacingAndGlyphs">EURUSD,M5</text>
<text x="49.5" y="511" font-family="Liberation Sans" font-size="7.2" fill="#1A1A1A" stroke="#1A1A1A" stroke-width="0.2" textLength="31" lengthAdjust="spacingAndGlyphs">GBPUSD,M5</text>
<text x="92" y="511" font-family="Liberation Sans" font-size="7.2" fill="#1A1A1A" stroke="#1A1A1A" stroke-width="0.2" textLength="32" lengthAdjust="spacingAndGlyphs">AUDUSD,M5</text>
<rect x="87" y="506" width="0.8" height="6" fill="#808080"/>
<rect x="129.5" y="506" width="0.8" height="6" fill="#808080"/>
<path d="M1012.5 509 L1015 507 L1015 511 Z" fill="#202020"/>
<path d="M1022 507 L1024 509 L1022 511 Z" fill="#202020"/>
<rect x="0" y="513.5" width="1024" height="8" fill="#F0F0F0"/>
<text x="0" y="524.1" font-family="Liberation Sans" font-size="8" fill="#202020" textLength="48.6" lengthAdjust="spacingAndGlyphs">For Help, press F1</text>
<rect x="639.6" y="516" width="0.9" height="5" fill="#A0A0A0"/>
<rect x="701.5" y="516" width="0.9" height="5" fill="#A0A0A0"/>
<rect x="756.8" y="516" width="0.9" height="5" fill="#A0A0A0"/>
<rect x="794.5" y="516" width="0.9" height="5" fill="#A0A0A0"/>
<rect x="832.8" y="516" width="0.9" height="5" fill="#A0A0A0"/>
<rect x="869" y="516" width="0.9" height="5" fill="#A0A0A0"/>
<rect x="907" y="516" width="0.9" height="5" fill="#A0A0A0"/>
<rect x="941.8" y="516" width="0.9" height="5" fill="#A0A0A0"/>
<text x="642" y="522.5" font-family="Liberation Sans" font-size="6.5" fill="#103010">Default</text>
<rect x="944" y="517" width="13" height="4" fill="#B8C0B8"/>
<path d="M945 517.5 V521 M947.5 517.5 V521 M950 517.5 V521 M952.5 517.5 V521 M955 517.5 V521" stroke="#3A5A3A" stroke-width="0.9"/>
<rect x="969.5" y="512.5" width="60" height="10" fill="#FCFCFC" stroke="#606060" stroke-width="0.9"/>
<text x="972.5" y="521.6" font-family="Liberation Sans" font-size="8.5" fill="#202020" textLength="53.5" lengthAdjust="spacingAndGlyphs">Connection status</text>
<rect x="0" y="2" width="1.5" height="10" fill="#A8A8A8"/>
<rect x="3.8" y="1.6" width="12.5" height="11.5" fill="#F7F7F7"/>
<path d="M3.3 13 V1.2 H16.5" fill="none" stroke="#6A6A6A" stroke-width="0.9"/>
<path d="M7.2 4 L7.2 11 L8.8 9.5 L10.2 12 L11.3 11.4 L10 9 L12 8.6 Z" fill="#000"/>
<path d="M25 4 V11.5 M21 7.6 H29" stroke="#9A9A9A" stroke-width="1"/>
<rect x="33.5" y="2" width="1.2" height="10.5" fill="#A8A8A8"/>
<path d="M42.8 4.5 V10.8" stroke="#7A7A7A" stroke-width="1.1"/>
<path d="M55 7.4 H62" stroke="#7A7A7A" stroke-width="1.1"/>
<path d="M70 11 L76.5 4.3" stroke="#6A6A6A" stroke-width="0.9"/>
<path d="M84.5 9.5 L89.5 4.5 M85.5 11 L90.5 6 M86.5 7.5 L88.5 9.5" stroke="#8A8A8A" stroke-width="1.3"/>
<circle cx="85.2" cy="10.2" r="0.8" fill="#2A2A70"/><circle cx="90.5" cy="6.4" r="0.8" fill="#2A2A70"/><circle cx="90.5" cy="3.8" r="0.7" fill="#303030"/><circle cx="90.8" cy="11" r="0.8" fill="#2A2A70"/>
<path d="M99.5 3.4 H107 M99.5 5.2 H107 M99.5 7.4 H107 M99.5 9.6 H106" stroke="#A6A6A6" stroke-width="0.8"/>
<path d="M104.8 9.6 L106.6 9.6 L105.7 11.3 Z" fill="#3A2A2A"/>
<text x="115.8" y="10.2" font-family="Liberation Sans" font-weight="bold" font-size="6.6" fill="#4A4A4A">A</text>
<rect x="130.3" y="4.2" width="6.3" height="7" fill="#FAFAFA" stroke="#A0A0A0" stroke-width="0.6"/>
<circle cx="130.6" cy="4.3" r="0.6" fill="#202020"/>
<path d="M132.2 6 H135 M133.6 6 V10.3" stroke="#151515" stroke-width="1"/>
<path d="M145.2 5.8 L146.5 4.5 L147.8 5.8 L146.5 7.1 Z M149.2 10 L150.5 8.7 L151.8 10 L150.5 11.3 Z" fill="#101010" stroke="#101010" stroke-width="0.5"/>
<path d="M147.3 7.2 L149.6 8.8" stroke="#707080" stroke-width="0.8"/>
<path d="M155.3 7 L157.3 7 L156.3 8.2 Z" fill="#303030"/>
<rect x="160" y="1" width="1" height="12.5" fill="#C8C8C8"/>
<rect x="163.3" y="2" width="1" height="10.5" fill="#A8A8A8"/>
<rect x="181.5" y="1.6" width="13" height="11.5" fill="#F7F7F7"/>
<path d="M181 13 V1.2 H194.5" fill="none" stroke="#6A6A6A" stroke-width="0.9"/>
<text x="169" y="10" font-family="Liberation Sans" font-size="6.2" fill="#2A2A2A" stroke="#2A2A2A" stroke-width="0.15" textLength="7" lengthAdjust="spacingAndGlyphs">M1</text>
<text x="184" y="10" font-family="Liberation Sans" font-size="6.2" fill="#2A2A2A" stroke="#2A2A2A" stroke-width="0.15" textLength="7" lengthAdjust="spacingAndGlyphs">M5</text>
<text x="198" y="10" font-family="Liberation Sans" font-size="6.2" fill="#2A2A2A" stroke="#2A2A2A" stroke-width="0.15" textLength="10" lengthAdjust="spacingAndGlyphs">M15</text>
<text x="213" y="10" font-family="Liberation Sans" font-size="6.2" fill="#2A2A2A" stroke="#2A2A2A" stroke-width="0.15" textLength="10" lengthAdjust="spacingAndGlyphs">M30</text>
<text x="230" y="10" font-family="Liberation Sans" font-size="6.2" fill="#2A2A2A" stroke="#2A2A2A" stroke-width="0.15" textLength="6" lengthAdjust="spacingAndGlyphs">H1</text>
<text x="244" y="10" font-family="Liberation Sans" font-size="6.2" fill="#2A2A2A" stroke="#2A2A2A" stroke-width="0.15" textLength="7" lengthAdjust="spacingAndGlyphs">H4</text>
<text x="260" y="10" font-family="Liberation Sans" font-size="6.2" fill="#2A2A2A" stroke="#2A2A2A" stroke-width="0.15" textLength="6" lengthAdjust="spacingAndGlyphs">D1</text>
<text x="274" y="10" font-family="Liberation Sans" font-size="6.2" fill="#2A2A2A" stroke="#2A2A2A" stroke-width="0.15" textLength="8" lengthAdjust="spacingAndGlyphs">W1</text>
<text x="289" y="10" font-family="Liberation Sans" font-size="6.2" fill="#2A2A2A" stroke="#2A2A2A" stroke-width="0.15" textLength="8" lengthAdjust="spacingAndGlyphs">MN</text>
<rect x="300.5" y="0" width="1.2" height="13" fill="#B0B0B0"/>
</svg></body></html>
